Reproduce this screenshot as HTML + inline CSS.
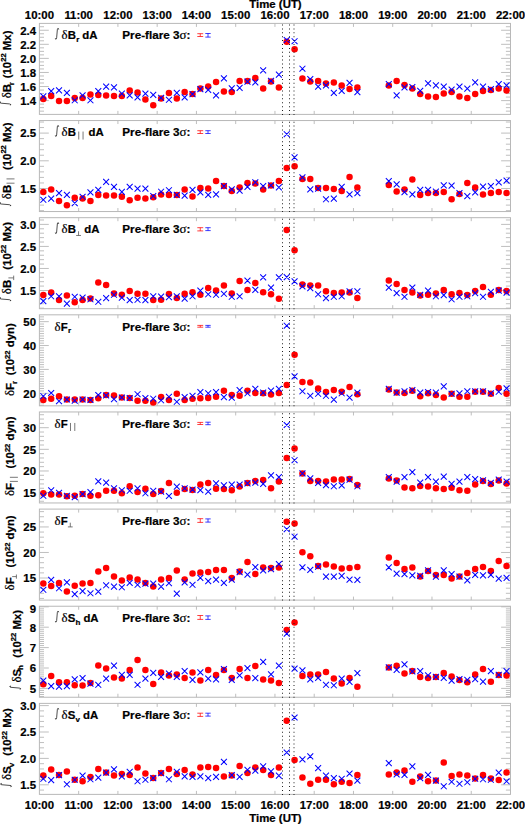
<!DOCTYPE html><html><head><meta charset="utf-8"><style>html,body{margin:0;padding:0;background:#fff;}svg{display:block;}text{font-family:"Liberation Sans",sans-serif;stroke:#000;stroke-width:0.22px;}</style></head><body>
<svg width="525" height="824" viewBox="0 0 525 824">
<rect width="525" height="824" fill="#fff"/>
<path d="M39.40 111.15h4.6M510.50 111.15h-4.6M39.40 107.63h4.6M510.50 107.63h-4.6M39.40 104.12h4.6M510.50 104.12h-4.6M39.40 100.60h9.4M510.50 100.60h-9.4M39.40 97.08h4.6M510.50 97.08h-4.6M39.40 93.56h4.6M510.50 93.56h-4.6M39.40 90.05h4.6M510.50 90.05h-4.6M39.40 86.53h9.4M510.50 86.53h-9.4M39.40 83.01h4.6M510.50 83.01h-4.6M39.40 79.49h4.6M510.50 79.49h-4.6M39.40 75.98h4.6M510.50 75.98h-4.6M39.40 72.46h9.4M510.50 72.46h-9.4M39.40 68.94h4.6M510.50 68.94h-4.6M39.40 65.42h4.6M510.50 65.42h-4.6M39.40 61.91h4.6M510.50 61.91h-4.6M39.40 58.39h9.4M510.50 58.39h-9.4M39.40 54.87h4.6M510.50 54.87h-4.6M39.40 51.35h4.6M510.50 51.35h-4.6M39.40 47.84h4.6M510.50 47.84h-4.6M39.40 44.32h9.4M510.50 44.32h-9.4M39.40 40.80h4.6M510.50 40.80h-4.6M39.40 37.28h4.6M510.50 37.28h-4.6M39.40 33.77h4.6M510.50 33.77h-4.6M39.40 30.25h9.4M510.50 30.25h-9.4M39.40 26.73h4.6M510.50 26.73h-4.6M78.66 23.40v3.5M78.66 114.40v-3.5M117.92 23.40v3.5M117.92 114.40v-3.5M157.18 23.40v3.5M157.18 114.40v-3.5M196.43 23.40v3.5M196.43 114.40v-3.5M235.69 23.40v3.5M235.69 114.40v-3.5M274.95 23.40v3.5M274.95 114.40v-3.5M314.21 23.40v3.5M314.21 114.40v-3.5M353.47 23.40v3.5M353.47 114.40v-3.5M392.73 23.40v3.5M392.73 114.40v-3.5M431.98 23.40v3.5M431.98 114.40v-3.5M471.24 23.40v3.5M471.24 114.40v-3.5" stroke="#b8b8b8" stroke-width="0.9" fill="none"/>
<rect x="39.40" y="23.40" width="471.10" height="91.00" fill="none" stroke="#b8b8b8" stroke-width="1"/>
<text x="36" y="104.90" font-size="11.4" font-weight="bold" text-anchor="end">1.4</text>
<text x="36" y="90.83" font-size="11.4" font-weight="bold" text-anchor="end">1.6</text>
<text x="36" y="76.76" font-size="11.4" font-weight="bold" text-anchor="end">1.8</text>
<text x="36" y="62.69" font-size="11.4" font-weight="bold" text-anchor="end">2.0</text>
<text x="36" y="48.62" font-size="11.4" font-weight="bold" text-anchor="end">2.2</text>
<text x="36" y="34.55" font-size="11.4" font-weight="bold" text-anchor="end">2.4</text>
<path d="M39.40 210.66h4.6M510.50 210.66h-4.6M39.40 205.12h4.6M510.50 205.12h-4.6M39.40 199.58h4.6M510.50 199.58h-4.6M39.40 194.04h4.6M510.50 194.04h-4.6M39.40 188.50h9.4M510.50 188.50h-9.4M39.40 182.96h4.6M510.50 182.96h-4.6M39.40 177.42h4.6M510.50 177.42h-4.6M39.40 171.88h4.6M510.50 171.88h-4.6M39.40 166.34h4.6M510.50 166.34h-4.6M39.40 160.80h9.4M510.50 160.80h-9.4M39.40 155.26h4.6M510.50 155.26h-4.6M39.40 149.72h4.6M510.50 149.72h-4.6M39.40 144.18h4.6M510.50 144.18h-4.6M39.40 138.64h4.6M510.50 138.64h-4.6M39.40 133.10h9.4M510.50 133.10h-9.4M39.40 127.56h4.6M510.50 127.56h-4.6M39.40 122.02h4.6M510.50 122.02h-4.6M78.66 120.54v3.5M78.66 211.54v-3.5M117.92 120.54v3.5M117.92 211.54v-3.5M157.18 120.54v3.5M157.18 211.54v-3.5M196.43 120.54v3.5M196.43 211.54v-3.5M235.69 120.54v3.5M235.69 211.54v-3.5M274.95 120.54v3.5M274.95 211.54v-3.5M314.21 120.54v3.5M314.21 211.54v-3.5M353.47 120.54v3.5M353.47 211.54v-3.5M392.73 120.54v3.5M392.73 211.54v-3.5M431.98 120.54v3.5M431.98 211.54v-3.5M471.24 120.54v3.5M471.24 211.54v-3.5" stroke="#b8b8b8" stroke-width="0.9" fill="none"/>
<rect x="39.40" y="120.54" width="471.10" height="91.00" fill="none" stroke="#b8b8b8" stroke-width="1"/>
<text x="36" y="192.80" font-size="11.4" font-weight="bold" text-anchor="end">1.5</text>
<text x="36" y="165.10" font-size="11.4" font-weight="bold" text-anchor="end">2.0</text>
<text x="36" y="137.40" font-size="11.4" font-weight="bold" text-anchor="end">2.5</text>
<path d="M39.40 308.13h4.6M510.50 308.13h-4.6M39.40 303.72h4.6M510.50 303.72h-4.6M39.40 299.31h4.6M510.50 299.31h-4.6M39.40 294.91h4.6M510.50 294.91h-4.6M39.40 290.50h9.4M510.50 290.50h-9.4M39.40 286.09h4.6M510.50 286.09h-4.6M39.40 281.69h4.6M510.50 281.69h-4.6M39.40 277.28h4.6M510.50 277.28h-4.6M39.40 272.87h4.6M510.50 272.87h-4.6M39.40 268.47h9.4M510.50 268.47h-9.4M39.40 264.06h4.6M510.50 264.06h-4.6M39.40 259.65h4.6M510.50 259.65h-4.6M39.40 255.25h4.6M510.50 255.25h-4.6M39.40 250.84h4.6M510.50 250.84h-4.6M39.40 246.43h9.4M510.50 246.43h-9.4M39.40 242.03h4.6M510.50 242.03h-4.6M39.40 237.62h4.6M510.50 237.62h-4.6M39.40 233.21h4.6M510.50 233.21h-4.6M39.40 228.81h4.6M510.50 228.81h-4.6M39.40 224.40h9.4M510.50 224.40h-9.4M39.40 219.99h4.6M510.50 219.99h-4.6M78.66 217.68v3.5M78.66 308.68v-3.5M117.92 217.68v3.5M117.92 308.68v-3.5M157.18 217.68v3.5M157.18 308.68v-3.5M196.43 217.68v3.5M196.43 308.68v-3.5M235.69 217.68v3.5M235.69 308.68v-3.5M274.95 217.68v3.5M274.95 308.68v-3.5M314.21 217.68v3.5M314.21 308.68v-3.5M353.47 217.68v3.5M353.47 308.68v-3.5M392.73 217.68v3.5M392.73 308.68v-3.5M431.98 217.68v3.5M431.98 308.68v-3.5M471.24 217.68v3.5M471.24 308.68v-3.5" stroke="#b8b8b8" stroke-width="0.9" fill="none"/>
<rect x="39.40" y="217.68" width="471.10" height="91.00" fill="none" stroke="#b8b8b8" stroke-width="1"/>
<text x="36" y="294.80" font-size="11.4" font-weight="bold" text-anchor="end">1.5</text>
<text x="36" y="272.77" font-size="11.4" font-weight="bold" text-anchor="end">2.0</text>
<text x="36" y="250.73" font-size="11.4" font-weight="bold" text-anchor="end">2.5</text>
<text x="36" y="228.70" font-size="11.4" font-weight="bold" text-anchor="end">3.0</text>
<path d="M39.40 405.24h4.6M510.50 405.24h-4.6M39.40 402.85h4.6M510.50 402.85h-4.6M39.40 400.47h4.6M510.50 400.47h-4.6M39.40 398.08h4.6M510.50 398.08h-4.6M39.40 395.69h4.6M510.50 395.69h-4.6M39.40 393.30h9.4M510.50 393.30h-9.4M39.40 390.91h4.6M510.50 390.91h-4.6M39.40 388.52h4.6M510.50 388.52h-4.6M39.40 386.13h4.6M510.50 386.13h-4.6M39.40 383.75h4.6M510.50 383.75h-4.6M39.40 381.36h4.6M510.50 381.36h-4.6M39.40 378.97h4.6M510.50 378.97h-4.6M39.40 376.58h4.6M510.50 376.58h-4.6M39.40 374.19h4.6M510.50 374.19h-4.6M39.40 371.81h4.6M510.50 371.81h-4.6M39.40 369.42h9.4M510.50 369.42h-9.4M39.40 367.03h4.6M510.50 367.03h-4.6M39.40 364.64h4.6M510.50 364.64h-4.6M39.40 362.25h4.6M510.50 362.25h-4.6M39.40 359.86h4.6M510.50 359.86h-4.6M39.40 357.48h4.6M510.50 357.48h-4.6M39.40 355.09h4.6M510.50 355.09h-4.6M39.40 352.70h4.6M510.50 352.70h-4.6M39.40 350.31h4.6M510.50 350.31h-4.6M39.40 347.92h4.6M510.50 347.92h-4.6M39.40 345.53h9.4M510.50 345.53h-9.4M39.40 343.14h4.6M510.50 343.14h-4.6M39.40 340.76h4.6M510.50 340.76h-4.6M39.40 338.37h4.6M510.50 338.37h-4.6M39.40 335.98h4.6M510.50 335.98h-4.6M39.40 333.59h4.6M510.50 333.59h-4.6M39.40 331.20h4.6M510.50 331.20h-4.6M39.40 328.81h4.6M510.50 328.81h-4.6M39.40 326.43h4.6M510.50 326.43h-4.6M39.40 324.04h4.6M510.50 324.04h-4.6M39.40 321.65h9.4M510.50 321.65h-9.4M39.40 319.26h4.6M510.50 319.26h-4.6M39.40 316.87h4.6M510.50 316.87h-4.6M78.66 314.82v3.5M78.66 405.82v-3.5M117.92 314.82v3.5M117.92 405.82v-3.5M157.18 314.82v3.5M157.18 405.82v-3.5M196.43 314.82v3.5M196.43 405.82v-3.5M235.69 314.82v3.5M235.69 405.82v-3.5M274.95 314.82v3.5M274.95 405.82v-3.5M314.21 314.82v3.5M314.21 405.82v-3.5M353.47 314.82v3.5M353.47 405.82v-3.5M392.73 314.82v3.5M392.73 405.82v-3.5M431.98 314.82v3.5M431.98 405.82v-3.5M471.24 314.82v3.5M471.24 405.82v-3.5" stroke="#b8b8b8" stroke-width="0.9" fill="none"/>
<rect x="39.40" y="314.82" width="471.10" height="91.00" fill="none" stroke="#b8b8b8" stroke-width="1"/>
<text x="36" y="397.60" font-size="11.4" font-weight="bold" text-anchor="end">20</text>
<text x="36" y="373.72" font-size="11.4" font-weight="bold" text-anchor="end">30</text>
<text x="36" y="349.83" font-size="11.4" font-weight="bold" text-anchor="end">40</text>
<text x="36" y="325.95" font-size="11.4" font-weight="bold" text-anchor="end">50</text>
<path d="M39.40 501.25h4.6M510.50 501.25h-4.6M39.40 496.93h4.6M510.50 496.93h-4.6M39.40 492.60h9.4M510.50 492.60h-9.4M39.40 488.27h4.6M510.50 488.27h-4.6M39.40 483.95h4.6M510.50 483.95h-4.6M39.40 479.62h4.6M510.50 479.62h-4.6M39.40 475.29h4.6M510.50 475.29h-4.6M39.40 470.97h9.4M510.50 470.97h-9.4M39.40 466.64h4.6M510.50 466.64h-4.6M39.40 462.31h4.6M510.50 462.31h-4.6M39.40 457.99h4.6M510.50 457.99h-4.6M39.40 453.66h4.6M510.50 453.66h-4.6M39.40 449.33h9.4M510.50 449.33h-9.4M39.40 445.01h4.6M510.50 445.01h-4.6M39.40 440.68h4.6M510.50 440.68h-4.6M39.40 436.35h4.6M510.50 436.35h-4.6M39.40 432.03h4.6M510.50 432.03h-4.6M39.40 427.70h9.4M510.50 427.70h-9.4M39.40 423.37h4.6M510.50 423.37h-4.6M39.40 419.05h4.6M510.50 419.05h-4.6M39.40 414.72h4.6M510.50 414.72h-4.6M78.66 411.96v3.5M78.66 502.96v-3.5M117.92 411.96v3.5M117.92 502.96v-3.5M157.18 411.96v3.5M157.18 502.96v-3.5M196.43 411.96v3.5M196.43 502.96v-3.5M235.69 411.96v3.5M235.69 502.96v-3.5M274.95 411.96v3.5M274.95 502.96v-3.5M314.21 411.96v3.5M314.21 502.96v-3.5M353.47 411.96v3.5M353.47 502.96v-3.5M392.73 411.96v3.5M392.73 502.96v-3.5M431.98 411.96v3.5M431.98 502.96v-3.5M471.24 411.96v3.5M471.24 502.96v-3.5" stroke="#b8b8b8" stroke-width="0.9" fill="none"/>
<rect x="39.40" y="411.96" width="471.10" height="91.00" fill="none" stroke="#b8b8b8" stroke-width="1"/>
<text x="36" y="496.90" font-size="11.4" font-weight="bold" text-anchor="end">15</text>
<text x="36" y="475.27" font-size="11.4" font-weight="bold" text-anchor="end">20</text>
<text x="36" y="453.63" font-size="11.4" font-weight="bold" text-anchor="end">25</text>
<text x="36" y="432.00" font-size="11.4" font-weight="bold" text-anchor="end">30</text>
<path d="M39.40 598.42h4.6M510.50 598.42h-4.6M39.40 593.31h4.6M510.50 593.31h-4.6M39.40 588.21h4.6M510.50 588.21h-4.6M39.40 583.11h4.6M510.50 583.11h-4.6M39.40 578.00h9.4M510.50 578.00h-9.4M39.40 572.89h4.6M510.50 572.89h-4.6M39.40 567.79h4.6M510.50 567.79h-4.6M39.40 562.69h4.6M510.50 562.69h-4.6M39.40 557.58h4.6M510.50 557.58h-4.6M39.40 552.48h9.4M510.50 552.48h-9.4M39.40 547.37h4.6M510.50 547.37h-4.6M39.40 542.26h4.6M510.50 542.26h-4.6M39.40 537.16h4.6M510.50 537.16h-4.6M39.40 532.06h4.6M510.50 532.06h-4.6M39.40 526.95h9.4M510.50 526.95h-9.4M39.40 521.85h4.6M510.50 521.85h-4.6M39.40 516.74h4.6M510.50 516.74h-4.6M39.40 511.64h4.6M510.50 511.64h-4.6M78.66 509.10v3.5M78.66 600.10v-3.5M117.92 509.10v3.5M117.92 600.10v-3.5M157.18 509.10v3.5M157.18 600.10v-3.5M196.43 509.10v3.5M196.43 600.10v-3.5M235.69 509.10v3.5M235.69 600.10v-3.5M274.95 509.10v3.5M274.95 600.10v-3.5M314.21 509.10v3.5M314.21 600.10v-3.5M353.47 509.10v3.5M353.47 600.10v-3.5M392.73 509.10v3.5M392.73 600.10v-3.5M431.98 509.10v3.5M431.98 600.10v-3.5M471.24 509.10v3.5M471.24 600.10v-3.5" stroke="#b8b8b8" stroke-width="0.9" fill="none"/>
<rect x="39.40" y="509.10" width="471.10" height="91.00" fill="none" stroke="#b8b8b8" stroke-width="1"/>
<text x="36" y="582.30" font-size="11.4" font-weight="bold" text-anchor="end">15</text>
<text x="36" y="556.77" font-size="11.4" font-weight="bold" text-anchor="end">20</text>
<text x="36" y="531.25" font-size="11.4" font-weight="bold" text-anchor="end">25</text>
<path d="M39.40 696.56h4.6M510.50 696.56h-4.6M39.40 694.52h4.6M510.50 694.52h-4.6M39.40 692.48h4.6M510.50 692.48h-4.6M39.40 690.44h4.6M510.50 690.44h-4.6M39.40 688.40h9.4M510.50 688.40h-9.4M39.40 686.36h4.6M510.50 686.36h-4.6M39.40 684.32h4.6M510.50 684.32h-4.6M39.40 682.28h4.6M510.50 682.28h-4.6M39.40 680.24h4.6M510.50 680.24h-4.6M39.40 678.20h4.6M510.50 678.20h-4.6M39.40 676.16h4.6M510.50 676.16h-4.6M39.40 674.12h4.6M510.50 674.12h-4.6M39.40 672.08h4.6M510.50 672.08h-4.6M39.40 670.04h4.6M510.50 670.04h-4.6M39.40 668.00h9.4M510.50 668.00h-9.4M39.40 665.96h4.6M510.50 665.96h-4.6M39.40 663.92h4.6M510.50 663.92h-4.6M39.40 661.88h4.6M510.50 661.88h-4.6M39.40 659.84h4.6M510.50 659.84h-4.6M39.40 657.80h4.6M510.50 657.80h-4.6M39.40 655.76h4.6M510.50 655.76h-4.6M39.40 653.72h4.6M510.50 653.72h-4.6M39.40 651.68h4.6M510.50 651.68h-4.6M39.40 649.64h4.6M510.50 649.64h-4.6M39.40 647.60h9.4M510.50 647.60h-9.4M39.40 645.56h4.6M510.50 645.56h-4.6M39.40 643.52h4.6M510.50 643.52h-4.6M39.40 641.48h4.6M510.50 641.48h-4.6M39.40 639.44h4.6M510.50 639.44h-4.6M39.40 637.40h4.6M510.50 637.40h-4.6M39.40 635.36h4.6M510.50 635.36h-4.6M39.40 633.32h4.6M510.50 633.32h-4.6M39.40 631.28h4.6M510.50 631.28h-4.6M39.40 629.24h4.6M510.50 629.24h-4.6M39.40 627.20h9.4M510.50 627.20h-9.4M39.40 625.16h4.6M510.50 625.16h-4.6M39.40 623.12h4.6M510.50 623.12h-4.6M39.40 621.08h4.6M510.50 621.08h-4.6M39.40 619.04h4.6M510.50 619.04h-4.6M39.40 617.00h4.6M510.50 617.00h-4.6M39.40 614.96h4.6M510.50 614.96h-4.6M39.40 612.92h4.6M510.50 612.92h-4.6M39.40 610.88h4.6M510.50 610.88h-4.6M39.40 608.84h4.6M510.50 608.84h-4.6M39.40 606.80h9.4M510.50 606.80h-9.4M78.66 606.24v3.5M78.66 697.24v-3.5M117.92 606.24v3.5M117.92 697.24v-3.5M157.18 606.24v3.5M157.18 697.24v-3.5M196.43 606.24v3.5M196.43 697.24v-3.5M235.69 606.24v3.5M235.69 697.24v-3.5M274.95 606.24v3.5M274.95 697.24v-3.5M314.21 606.24v3.5M314.21 697.24v-3.5M353.47 606.24v3.5M353.47 697.24v-3.5M392.73 606.24v3.5M392.73 697.24v-3.5M431.98 606.24v3.5M431.98 697.24v-3.5M471.24 606.24v3.5M471.24 697.24v-3.5" stroke="#b8b8b8" stroke-width="0.9" fill="none"/>
<rect x="39.40" y="606.24" width="471.10" height="91.00" fill="none" stroke="#b8b8b8" stroke-width="1"/>
<text x="36" y="692.70" font-size="11.4" font-weight="bold" text-anchor="end">5</text>
<text x="36" y="672.30" font-size="11.4" font-weight="bold" text-anchor="end">6</text>
<text x="36" y="651.90" font-size="11.4" font-weight="bold" text-anchor="end">7</text>
<text x="36" y="631.50" font-size="11.4" font-weight="bold" text-anchor="end">8</text>
<text x="36" y="612.50" font-size="11.4" font-weight="bold" text-anchor="end">9</text>
<path d="M39.40 790.08h4.6M510.50 790.08h-4.6M39.40 784.80h9.4M510.50 784.80h-9.4M39.40 779.52h4.6M510.50 779.52h-4.6M39.40 774.24h4.6M510.50 774.24h-4.6M39.40 768.96h4.6M510.50 768.96h-4.6M39.40 763.68h4.6M510.50 763.68h-4.6M39.40 758.40h9.4M510.50 758.40h-9.4M39.40 753.12h4.6M510.50 753.12h-4.6M39.40 747.84h4.6M510.50 747.84h-4.6M39.40 742.56h4.6M510.50 742.56h-4.6M39.40 737.28h4.6M510.50 737.28h-4.6M39.40 732.00h9.4M510.50 732.00h-9.4M39.40 726.72h4.6M510.50 726.72h-4.6M39.40 721.44h4.6M510.50 721.44h-4.6M39.40 716.16h4.6M510.50 716.16h-4.6M39.40 710.88h4.6M510.50 710.88h-4.6M39.40 705.60h9.4M510.50 705.60h-9.4M78.66 703.38v3.5M78.66 794.38v-3.5M117.92 703.38v3.5M117.92 794.38v-3.5M157.18 703.38v3.5M157.18 794.38v-3.5M196.43 703.38v3.5M196.43 794.38v-3.5M235.69 703.38v3.5M235.69 794.38v-3.5M274.95 703.38v3.5M274.95 794.38v-3.5M314.21 703.38v3.5M314.21 794.38v-3.5M353.47 703.38v3.5M353.47 794.38v-3.5M392.73 703.38v3.5M392.73 794.38v-3.5M431.98 703.38v3.5M431.98 794.38v-3.5M471.24 703.38v3.5M471.24 794.38v-3.5" stroke="#b8b8b8" stroke-width="0.9" fill="none"/>
<rect x="39.40" y="703.38" width="471.10" height="91.00" fill="none" stroke="#b8b8b8" stroke-width="1"/>
<text x="36" y="789.10" font-size="11.4" font-weight="bold" text-anchor="end">1.5</text>
<text x="36" y="762.70" font-size="11.4" font-weight="bold" text-anchor="end">2.0</text>
<text x="36" y="736.30" font-size="11.4" font-weight="bold" text-anchor="end">2.5</text>
<text x="36" y="709.90" font-size="11.4" font-weight="bold" text-anchor="end">3.0</text>
<text x="39.40" y="18.8" font-size="11.4" font-weight="bold" text-anchor="middle">10:00</text>
<text x="39.40" y="809.0" font-size="11.4" font-weight="bold" text-anchor="middle">10:00</text>
<text x="78.66" y="18.8" font-size="11.4" font-weight="bold" text-anchor="middle">11:00</text>
<text x="78.66" y="809.0" font-size="11.4" font-weight="bold" text-anchor="middle">11:00</text>
<text x="117.92" y="18.8" font-size="11.4" font-weight="bold" text-anchor="middle">12:00</text>
<text x="117.92" y="809.0" font-size="11.4" font-weight="bold" text-anchor="middle">12:00</text>
<text x="157.18" y="18.8" font-size="11.4" font-weight="bold" text-anchor="middle">13:00</text>
<text x="157.18" y="809.0" font-size="11.4" font-weight="bold" text-anchor="middle">13:00</text>
<text x="196.43" y="18.8" font-size="11.4" font-weight="bold" text-anchor="middle">14:00</text>
<text x="196.43" y="809.0" font-size="11.4" font-weight="bold" text-anchor="middle">14:00</text>
<text x="235.69" y="18.8" font-size="11.4" font-weight="bold" text-anchor="middle">15:00</text>
<text x="235.69" y="809.0" font-size="11.4" font-weight="bold" text-anchor="middle">15:00</text>
<text x="274.95" y="18.8" font-size="11.4" font-weight="bold" text-anchor="middle">16:00</text>
<text x="274.95" y="809.0" font-size="11.4" font-weight="bold" text-anchor="middle">16:00</text>
<text x="314.21" y="18.8" font-size="11.4" font-weight="bold" text-anchor="middle">17:00</text>
<text x="314.21" y="809.0" font-size="11.4" font-weight="bold" text-anchor="middle">17:00</text>
<text x="353.47" y="18.8" font-size="11.4" font-weight="bold" text-anchor="middle">18:00</text>
<text x="353.47" y="809.0" font-size="11.4" font-weight="bold" text-anchor="middle">18:00</text>
<text x="392.73" y="18.8" font-size="11.4" font-weight="bold" text-anchor="middle">19:00</text>
<text x="392.73" y="809.0" font-size="11.4" font-weight="bold" text-anchor="middle">19:00</text>
<text x="431.98" y="18.8" font-size="11.4" font-weight="bold" text-anchor="middle">20:00</text>
<text x="431.98" y="809.0" font-size="11.4" font-weight="bold" text-anchor="middle">20:00</text>
<text x="471.24" y="18.8" font-size="11.4" font-weight="bold" text-anchor="middle">21:00</text>
<text x="471.24" y="809.0" font-size="11.4" font-weight="bold" text-anchor="middle">21:00</text>
<text x="510.50" y="18.8" font-size="11.4" font-weight="bold" text-anchor="middle">22:00</text>
<text x="510.50" y="809.0" font-size="11.4" font-weight="bold" text-anchor="middle">22:00</text>
<text x="275.5" y="8.2" font-size="11.4" font-weight="bold" text-anchor="middle">Time (UT)</text>
<text x="275.5" y="821.5" font-size="11.4" font-weight="bold" text-anchor="middle">Time (UT)</text>
<path d="M58.60 29.00C58.40 28.00 57.50 28.10 57.35 29.60L56.65 37.80C56.50 39.40 55.70 39.60 55.45 38.80M58.20 28.80h0.01M55.80 39.00h0.01" stroke="#222" stroke-width="0.8" stroke-linecap="round" fill="none"/>
<text x="61.6" y="39.20" font-size="11.4" font-weight="bold"><tspan font-family="Liberation Serif" font-weight="normal" font-size="12.8" stroke="#000" stroke-width="0.2">δ</tspan>B</text>
<text x="76.16" y="42.00" font-size="8" font-weight="bold">r</text>
<text x="82.27" y="39.20" font-size="11.4" font-weight="bold">dA</text>
<text x="122.3" y="39.20" font-size="11.7" font-weight="bold">Pre-flare 3<tspan font-family="Liberation Serif" font-weight="normal" font-size="13" stroke="#000" stroke-width="0.2">σ</tspan>:</text>
<path d="M197.3 33.70h5.9M197.3 36.50h5.9M200.25 33.70V36.50" stroke="#ff0000" stroke-width="0.75" fill="none"/>
<path d="M205.3 33.50h5.4M205.3 37.10h5.4M208 33.50V37.10" stroke="#0000ff" stroke-width="0.75" fill="none"/>
<path d="M58.60 126.14C58.40 125.14 57.50 125.24 57.35 126.74L56.65 134.94C56.50 136.54 55.70 136.74 55.45 135.94M58.20 125.94h0.01M55.80 136.14h0.01" stroke="#222" stroke-width="0.8" stroke-linecap="round" fill="none"/>
<text x="61.6" y="136.34" font-size="11.4" font-weight="bold"><tspan font-family="Liberation Serif" font-weight="normal" font-size="12.8" stroke="#000" stroke-width="0.2">δ</tspan>B</text>
<path d="M78.76 131.54v8M83.06 131.54v8" stroke="#555" stroke-width="0.8" fill="none"/>
<text x="88.46" y="136.34" font-size="11.4" font-weight="bold">dA</text>
<text x="122.3" y="136.34" font-size="11.7" font-weight="bold">Pre-flare 3<tspan font-family="Liberation Serif" font-weight="normal" font-size="13" stroke="#000" stroke-width="0.2">σ</tspan>:</text>
<path d="M197.3 130.70h5.9M197.3 133.50h5.9M200.25 130.70V133.50" stroke="#ff0000" stroke-width="0.75" fill="none"/>
<path d="M205.3 130.70h5.4M205.3 133.50h5.4M208 130.70V133.50" stroke="#0000ff" stroke-width="0.75" fill="none"/>
<path d="M58.60 223.28C58.40 222.28 57.50 222.38 57.35 223.88L56.65 232.08C56.50 233.68 55.70 233.88 55.45 233.08M58.20 223.08h0.01M55.80 233.28h0.01" stroke="#222" stroke-width="0.8" stroke-linecap="round" fill="none"/>
<text x="61.6" y="233.48" font-size="11.4" font-weight="bold"><tspan font-family="Liberation Serif" font-weight="normal" font-size="12.8" stroke="#000" stroke-width="0.2">δ</tspan>B</text>
<path d="M76.16 235.48h4.8M78.56 235.48v-4.2" stroke="#555" stroke-width="0.8" fill="none"/>
<text x="84.26" y="233.48" font-size="11.4" font-weight="bold">dA</text>
<text x="122.3" y="233.48" font-size="11.7" font-weight="bold">Pre-flare 3<tspan font-family="Liberation Serif" font-weight="normal" font-size="13" stroke="#000" stroke-width="0.2">σ</tspan>:</text>
<path d="M197.3 227.70h5.9M197.3 230.90h5.9M200.25 227.70V230.90" stroke="#ff0000" stroke-width="0.75" fill="none"/>
<path d="M205.3 227.70h5.4M205.3 230.60h5.4M208 227.70V230.60" stroke="#0000ff" stroke-width="0.75" fill="none"/>
<text x="54.6" y="330.62" font-size="11.4" font-weight="bold"><tspan font-family="Liberation Serif" font-weight="normal" font-size="12.8" stroke="#000" stroke-width="0.2">δ</tspan>F</text>
<text x="67.89" y="333.42" font-size="8" font-weight="bold">r</text>
<text x="122.3" y="330.62" font-size="11.7" font-weight="bold">Pre-flare 3<tspan font-family="Liberation Serif" font-weight="normal" font-size="13" stroke="#000" stroke-width="0.2">σ</tspan>:</text>
<path d="M197.3 325.40h5.9M197.3 327.20h5.9M200.25 325.40V327.20" stroke="#ff0000" stroke-width="0.75" fill="none"/>
<path d="M205.3 325.40h5.4M205.3 327.20h5.4M208 325.40V327.20" stroke="#0000ff" stroke-width="0.75" fill="none"/>
<text x="54.6" y="427.76" font-size="11.4" font-weight="bold"><tspan font-family="Liberation Serif" font-weight="normal" font-size="12.8" stroke="#000" stroke-width="0.2">δ</tspan>F</text>
<path d="M70.49 422.96v8M74.79 422.96v8" stroke="#555" stroke-width="0.8" fill="none"/>
<text x="122.3" y="427.76" font-size="11.7" font-weight="bold">Pre-flare 3<tspan font-family="Liberation Serif" font-weight="normal" font-size="13" stroke="#000" stroke-width="0.2">σ</tspan>:</text>
<path d="M197.3 422.40h5.9M197.3 424.50h5.9M200.25 422.40V424.50" stroke="#ff0000" stroke-width="0.75" fill="none"/>
<path d="M205.3 422.20h5.4M205.3 424.70h5.4M208 422.20V424.70" stroke="#0000ff" stroke-width="0.75" fill="none"/>
<text x="54.6" y="524.90" font-size="11.4" font-weight="bold"><tspan font-family="Liberation Serif" font-weight="normal" font-size="12.8" stroke="#000" stroke-width="0.2">δ</tspan>F</text>
<path d="M67.89 526.90h4.8M70.29 526.90v-4.2" stroke="#555" stroke-width="0.8" fill="none"/>
<text x="122.3" y="524.90" font-size="11.7" font-weight="bold">Pre-flare 3<tspan font-family="Liberation Serif" font-weight="normal" font-size="13" stroke="#000" stroke-width="0.2">σ</tspan>:</text>
<path d="M197.3 518.70h5.9M197.3 522.40h5.9M200.25 518.70V522.40" stroke="#ff0000" stroke-width="0.75" fill="none"/>
<path d="M205.3 518.90h5.4M205.3 522.10h5.4M208 518.90V522.10" stroke="#0000ff" stroke-width="0.75" fill="none"/>
<path d="M58.60 611.84C58.40 610.84 57.50 610.94 57.35 612.44L56.65 620.64C56.50 622.24 55.70 622.44 55.45 621.64M58.20 611.64h0.01M55.80 621.84h0.01" stroke="#222" stroke-width="0.8" stroke-linecap="round" fill="none"/>
<text x="61.6" y="622.04" font-size="11.4" font-weight="bold"><tspan font-family="Liberation Serif" font-weight="normal" font-size="12.8" stroke="#000" stroke-width="0.2">δ</tspan>S</text>
<text x="75.53" y="624.84" font-size="8" font-weight="bold">h</text>
<text x="83.42" y="622.04" font-size="11.4" font-weight="bold">dA</text>
<text x="122.3" y="622.04" font-size="11.7" font-weight="bold">Pre-flare 3<tspan font-family="Liberation Serif" font-weight="normal" font-size="13" stroke="#000" stroke-width="0.2">σ</tspan>:</text>
<path d="M197.3 615.50h5.9M197.3 619.40h5.9M200.25 615.50V619.40" stroke="#ff0000" stroke-width="0.75" fill="none"/>
<path d="M205.3 615.90h5.4M205.3 619.40h5.4M208 615.90V619.40" stroke="#0000ff" stroke-width="0.75" fill="none"/>
<path d="M58.60 708.98C58.40 707.98 57.50 708.08 57.35 709.58L56.65 717.78C56.50 719.38 55.70 719.58 55.45 718.78M58.20 708.78h0.01M55.80 718.98h0.01" stroke="#222" stroke-width="0.8" stroke-linecap="round" fill="none"/>
<text x="61.6" y="719.18" font-size="11.4" font-weight="bold"><tspan font-family="Liberation Serif" font-weight="normal" font-size="12.8" stroke="#000" stroke-width="0.2">δ</tspan>S</text>
<text x="75.53" y="721.98" font-size="8" font-weight="bold">v</text>
<text x="82.98" y="719.18" font-size="11.4" font-weight="bold">dA</text>
<text x="122.3" y="719.18" font-size="11.7" font-weight="bold">Pre-flare 3<tspan font-family="Liberation Serif" font-weight="normal" font-size="13" stroke="#000" stroke-width="0.2">σ</tspan>:</text>
<path d="M197.3 713.20h5.9M197.3 716.40h5.9M200.25 713.20V716.40" stroke="#ff0000" stroke-width="0.75" fill="none"/>
<path d="M205.3 713.20h5.4M205.3 716.10h5.4M208 713.20V716.10" stroke="#0000ff" stroke-width="0.75" fill="none"/>
<text transform="translate(10.70,84.09) rotate(-90)" font-size="11.4" font-weight="bold" text-anchor="end"><tspan font-family="Liberation Serif" font-weight="normal" font-size="12.8" stroke="#000" stroke-width="0.2">δ</tspan>B</text>
<g transform="translate(10.70,101.65) rotate(-90)"><path d="M-0.30 -10.20C-0.50 -11.20 -1.40 -11.10 -1.55 -9.60L-2.25 -1.40C-2.40 0.20 -3.20 0.40 -3.45 -0.40M-0.70 -10.40h0.01M-3.10 -0.20h0.01" stroke="#222" stroke-width="0.8" stroke-linecap="round" fill="none"/></g>
<text transform="translate(13.50,85.20) rotate(-90)" font-size="8" font-weight="bold">r</text>
<text transform="translate(10.70,78.27) rotate(-90)" font-size="11.4" font-weight="bold">(10<tspan font-size="7.6" dy="-4.6">22</tspan><tspan dy="4.6"> Mx)</tspan></text>
<text transform="translate(10.70,184.89) rotate(-90)" font-size="11.4" font-weight="bold" text-anchor="end"><tspan font-family="Liberation Serif" font-weight="normal" font-size="12.8" stroke="#000" stroke-width="0.2">δ</tspan>B</text>
<g transform="translate(10.70,202.45) rotate(-90)"><path d="M-0.30 -10.20C-0.50 -11.20 -1.40 -11.10 -1.55 -9.60L-2.25 -1.40C-2.40 0.20 -3.20 0.40 -3.45 -0.40M-0.70 -10.40h0.01M-3.10 -0.20h0.01" stroke="#222" stroke-width="0.8" stroke-linecap="round" fill="none"/></g>
<path d="M6.50 183.20H14.50M6.50 178.90H14.50" stroke="#555" stroke-width="0.8" fill="none"/>
<text transform="translate(10.70,170.07) rotate(-90)" font-size="11.4" font-weight="bold">(10<tspan font-size="7.6" dy="-4.6">22</tspan><tspan dy="4.6"> Mx)</tspan></text>
<text transform="translate(10.70,279.89) rotate(-90)" font-size="11.4" font-weight="bold" text-anchor="end"><tspan font-family="Liberation Serif" font-weight="normal" font-size="12.8" stroke="#000" stroke-width="0.2">δ</tspan>B</text>
<g transform="translate(10.70,297.45) rotate(-90)"><path d="M-0.30 -10.20C-0.50 -11.20 -1.40 -11.10 -1.55 -9.60L-2.25 -1.40C-2.40 0.20 -3.20 0.40 -3.45 -0.40M-0.70 -10.40h0.01M-3.10 -0.20h0.01" stroke="#222" stroke-width="0.8" stroke-linecap="round" fill="none"/></g>
<path d="M8.40 277.90H13.70M13.70 275.60V280.10" stroke="#555" stroke-width="0.8" fill="none"/>
<text transform="translate(10.70,269.67) rotate(-90)" font-size="11.4" font-weight="bold">(10<tspan font-size="7.6" dy="-4.6">22</tspan><tspan dy="4.6"> Mx)</tspan></text>
<text transform="translate(14.10,382.98) rotate(-90)" font-size="11.4" font-weight="bold" text-anchor="end"><tspan font-family="Liberation Serif" font-weight="normal" font-size="12.8" stroke="#000" stroke-width="0.2">δ</tspan>F</text>
<text transform="translate(16.90,384.00) rotate(-90)" font-size="8" font-weight="bold">r</text>
<text transform="translate(14.10,375.37) rotate(-90)" font-size="11.4" font-weight="bold">(10<tspan font-size="7.6" dy="-4.6">22</tspan><tspan dy="4.6"> dyn)</tspan></text>
<text transform="translate(14.10,482.98) rotate(-90)" font-size="11.4" font-weight="bold" text-anchor="end"><tspan font-family="Liberation Serif" font-weight="normal" font-size="12.8" stroke="#000" stroke-width="0.2">δ</tspan>F</text>
<path d="M9.90 481.40H17.90M9.90 477.30H17.90" stroke="#555" stroke-width="0.8" fill="none"/>
<text transform="translate(14.10,468.57) rotate(-90)" font-size="11.4" font-weight="bold">(10<tspan font-size="7.6" dy="-4.6">22</tspan><tspan dy="4.6"> dyn)</tspan></text>
<text transform="translate(14.10,577.38) rotate(-90)" font-size="11.4" font-weight="bold" text-anchor="end"><tspan font-family="Liberation Serif" font-weight="normal" font-size="12.8" stroke="#000" stroke-width="0.2">δ</tspan>F</text>
<path d="M12.20 576.60H16.40M16.40 574.50V578.70" stroke="#555" stroke-width="0.8" fill="none"/>
<text transform="translate(14.10,567.47) rotate(-90)" font-size="11.4" font-weight="bold">(10<tspan font-size="7.6" dy="-4.6">22</tspan><tspan dy="4.6"> dyn)</tspan></text>
<text transform="translate(20.60,668.86) rotate(-90)" font-size="11.4" font-weight="bold" text-anchor="end"><tspan font-family="Liberation Serif" font-weight="normal" font-size="12.8" stroke="#000" stroke-width="0.2">δ</tspan>S</text>
<g transform="translate(20.60,685.79) rotate(-90)"><path d="M-0.30 -10.20C-0.50 -11.20 -1.40 -11.10 -1.55 -9.60L-2.25 -1.40C-2.40 0.20 -3.20 0.40 -3.45 -0.40M-0.70 -10.40h0.01M-3.10 -0.20h0.01" stroke="#222" stroke-width="0.8" stroke-linecap="round" fill="none"/></g>
<text transform="translate(23.40,669.90) rotate(-90)" font-size="8" font-weight="bold">h</text>
<text transform="translate(20.60,657.67) rotate(-90)" font-size="11.4" font-weight="bold">(10<tspan font-size="7.6" dy="-4.6">22</tspan><tspan dy="4.6"> Mx)</tspan></text>
<text transform="translate(11.40,766.26) rotate(-90)" font-size="11.4" font-weight="bold" text-anchor="end"><tspan font-family="Liberation Serif" font-weight="normal" font-size="12.8" stroke="#000" stroke-width="0.2">δ</tspan>S</text>
<g transform="translate(11.40,783.19) rotate(-90)"><path d="M-0.30 -10.20C-0.50 -11.20 -1.40 -11.10 -1.55 -9.60L-2.25 -1.40C-2.40 0.20 -3.20 0.40 -3.45 -0.40M-0.70 -10.40h0.01M-3.10 -0.20h0.01" stroke="#222" stroke-width="0.8" stroke-linecap="round" fill="none"/></g>
<text transform="translate(14.20,767.30) rotate(-90)" font-size="8" font-weight="bold">v</text>
<text transform="translate(11.40,755.87) rotate(-90)" font-size="11.4" font-weight="bold">(10<tspan font-size="7.6" dy="-4.6">22</tspan><tspan dy="4.6"> Mx)</tspan></text>
<g fill="#ff0000"><circle cx="43.33" cy="99.10" r="3.25"/><circle cx="51.18" cy="96.10" r="3.25"/><circle cx="59.03" cy="101.10" r="3.25"/><circle cx="66.88" cy="101.10" r="3.25"/><circle cx="74.73" cy="97.90" r="3.25"/><circle cx="82.58" cy="98.10" r="3.25"/><circle cx="90.44" cy="94.40" r="3.25"/><circle cx="98.29" cy="94.90" r="3.25"/><circle cx="106.14" cy="95.60" r="3.25"/><circle cx="113.99" cy="96.10" r="3.25"/><circle cx="121.84" cy="96.10" r="3.25"/><circle cx="129.69" cy="90.40" r="3.25"/><circle cx="137.55" cy="92.40" r="3.25"/><circle cx="145.40" cy="99.60" r="3.25"/><circle cx="153.25" cy="105.30" r="3.25"/><circle cx="161.10" cy="98.50" r="3.25"/><circle cx="168.95" cy="92.90" r="3.25"/><circle cx="176.80" cy="98.60" r="3.25"/><circle cx="184.66" cy="92.10" r="3.25"/><circle cx="192.51" cy="94.10" r="3.25"/><circle cx="200.36" cy="88.60" r="3.25"/><circle cx="208.21" cy="86.60" r="3.25"/><circle cx="216.06" cy="82.10" r="3.25"/><circle cx="223.91" cy="91.60" r="3.25"/><circle cx="231.77" cy="92.10" r="3.25"/><circle cx="239.62" cy="80.90" r="3.25"/><circle cx="247.47" cy="81.10" r="3.25"/><circle cx="255.32" cy="77.90" r="3.25"/><circle cx="263.17" cy="88.40" r="3.25"/><circle cx="271.02" cy="81.60" r="3.25"/><circle cx="278.88" cy="87.40" r="3.25"/><circle cx="286.73" cy="41.70" r="3.25"/><circle cx="294.58" cy="49.20" r="3.25"/><circle cx="302.43" cy="78.40" r="3.25"/><circle cx="310.28" cy="81.60" r="3.25"/><circle cx="318.13" cy="80.90" r="3.25"/><circle cx="325.99" cy="83.60" r="3.25"/><circle cx="333.84" cy="82.40" r="3.25"/><circle cx="341.69" cy="85.40" r="3.25"/><circle cx="349.54" cy="89.10" r="3.25"/><circle cx="357.39" cy="87.40" r="3.25"/><circle cx="388.80" cy="85.40" r="3.25"/><circle cx="396.65" cy="81.10" r="3.25"/><circle cx="404.50" cy="85.10" r="3.25"/><circle cx="412.35" cy="88.40" r="3.25"/><circle cx="420.21" cy="94.10" r="3.25"/><circle cx="428.06" cy="96.60" r="3.25"/><circle cx="435.91" cy="97.10" r="3.25"/><circle cx="443.76" cy="93.40" r="3.25"/><circle cx="451.61" cy="92.10" r="3.25"/><circle cx="459.46" cy="96.60" r="3.25"/><circle cx="467.32" cy="97.90" r="3.25"/><circle cx="475.17" cy="94.10" r="3.25"/><circle cx="483.02" cy="90.90" r="3.25"/><circle cx="490.87" cy="89.90" r="3.25"/><circle cx="498.72" cy="88.60" r="3.25"/><circle cx="506.57" cy="90.40" r="3.25"/></g>
<path d="M40.38 93.45L46.28 99.35M40.38 99.35L46.28 93.45M48.23 88.15L54.13 94.05M48.23 94.05L54.13 88.15M56.08 87.45L61.98 93.35M56.08 93.35L61.98 87.45M63.93 89.95L69.83 95.85M63.93 95.85L69.83 89.95M71.78 97.35L77.68 103.25M71.78 103.25L77.68 97.35M79.63 92.45L85.53 98.35M79.63 98.35L85.53 92.45M87.49 97.35L93.39 103.25M87.49 103.25L93.39 97.35M95.34 88.15L101.24 94.05M95.34 94.05L101.24 88.15M103.19 83.65L109.09 89.55M103.19 89.55L109.09 83.65M111.04 84.45L116.94 90.35M111.04 90.35L116.94 84.45M118.89 90.65L124.79 96.55M118.89 96.55L124.79 90.65M126.74 92.45L132.64 98.35M126.74 98.35L132.64 92.45M134.60 94.45L140.50 100.35M134.60 100.35L140.50 94.45M142.45 90.65L148.35 96.55M142.45 96.55L148.35 90.65M150.30 91.95L156.20 97.85M150.30 97.85L156.20 91.95M158.15 94.95L164.05 100.85M158.15 100.85L164.05 94.95M166.00 96.85L171.90 102.75M166.00 102.75L171.90 96.85M173.85 89.95L179.75 95.85M173.85 95.85L179.75 89.95M181.71 94.45L187.61 100.35M181.71 100.35L187.61 94.45M189.56 91.15L195.46 97.05M189.56 97.05L195.46 91.15M197.41 86.15L203.31 92.05M197.41 92.05L203.31 86.15M205.26 86.95L211.16 92.85M205.26 92.85L211.16 86.95M213.11 92.45L219.01 98.35M213.11 98.35L219.01 92.45M220.96 75.45L226.86 81.35M220.96 81.35L226.86 75.45M228.82 85.45L234.72 91.35M228.82 91.35L234.72 85.45M236.67 84.95L242.57 90.85M236.67 90.85L242.57 84.95M244.52 78.65L250.42 84.55M244.52 84.55L250.42 78.65M252.37 79.45L258.27 85.35M252.37 85.35L258.27 79.45M260.22 67.45L266.12 73.35M260.22 73.35L266.12 67.45M268.07 77.95L273.97 83.85M268.07 83.85L273.97 77.95M275.93 71.65L281.83 77.55M275.93 77.55L281.83 71.65M283.78 37.05L289.68 42.95M283.78 42.95L289.68 37.05M291.63 38.25L297.53 44.15M291.63 44.15L297.53 38.25M299.48 65.75L305.38 71.65M299.48 71.65L305.38 65.75M307.33 76.15L313.23 82.05M307.33 82.05L313.23 76.15M315.18 83.65L321.08 89.55M315.18 89.55L321.08 83.65M323.04 82.45L328.94 88.35M323.04 88.35L328.94 82.45M330.89 89.95L336.79 95.85M330.89 95.85L336.79 89.95M338.74 87.95L344.64 93.85M338.74 93.85L344.64 87.95M346.59 79.95L352.49 85.85M346.59 85.85L352.49 79.95M354.44 89.15L360.34 95.05M354.44 95.05L360.34 89.15M385.85 81.15L391.75 87.05M385.85 87.05L391.75 81.15M393.70 92.45L399.60 98.35M393.70 98.35L399.60 92.45M401.55 84.45L407.45 90.35M401.55 90.35L407.45 84.45M409.40 84.05L415.30 89.95M409.40 89.95L415.30 84.05M417.26 87.95L423.16 93.85M417.26 93.85L423.16 87.95M425.11 80.45L431.01 86.35M425.11 86.35L431.01 80.45M432.96 82.45L438.86 88.35M432.96 88.35L438.86 82.45M440.81 83.65L446.71 89.55M440.81 89.55L446.71 83.65M448.66 86.65L454.56 92.55M448.66 92.55L454.56 86.65M456.51 83.65L462.41 89.55M456.51 89.55L462.41 83.65M464.37 85.65L470.27 91.55M464.37 91.55L470.27 85.65M472.22 79.45L478.12 85.35M472.22 85.35L478.12 79.45M480.07 83.65L485.97 89.55M480.07 89.55L485.97 83.65M487.92 86.15L493.82 92.05M487.92 92.05L493.82 86.15M495.77 81.15L501.67 87.05M495.77 87.05L501.67 81.15M503.62 82.45L509.52 88.35M503.62 88.35L509.52 82.45" stroke="#0000ff" stroke-width="1.05" fill="none"/>
<g fill="#ff0000"><circle cx="43.33" cy="191.90" r="3.25"/><circle cx="51.18" cy="189.40" r="3.25"/><circle cx="59.03" cy="201.10" r="3.25"/><circle cx="66.88" cy="205.30" r="3.25"/><circle cx="74.73" cy="197.80" r="3.25"/><circle cx="82.58" cy="198.60" r="3.25"/><circle cx="90.44" cy="201.10" r="3.25"/><circle cx="98.29" cy="194.90" r="3.25"/><circle cx="106.14" cy="195.40" r="3.25"/><circle cx="113.99" cy="195.40" r="3.25"/><circle cx="121.84" cy="196.80" r="3.25"/><circle cx="129.69" cy="200.30" r="3.25"/><circle cx="137.55" cy="197.80" r="3.25"/><circle cx="145.40" cy="198.60" r="3.25"/><circle cx="153.25" cy="197.30" r="3.25"/><circle cx="161.10" cy="194.40" r="3.25"/><circle cx="168.95" cy="195.10" r="3.25"/><circle cx="176.80" cy="194.90" r="3.25"/><circle cx="184.66" cy="189.40" r="3.25"/><circle cx="192.51" cy="196.60" r="3.25"/><circle cx="200.36" cy="187.90" r="3.25"/><circle cx="208.21" cy="188.60" r="3.25"/><circle cx="216.06" cy="181.10" r="3.25"/><circle cx="223.91" cy="186.10" r="3.25"/><circle cx="231.77" cy="191.10" r="3.25"/><circle cx="239.62" cy="187.40" r="3.25"/><circle cx="247.47" cy="183.10" r="3.25"/><circle cx="255.32" cy="183.60" r="3.25"/><circle cx="263.17" cy="189.40" r="3.25"/><circle cx="271.02" cy="185.60" r="3.25"/><circle cx="278.88" cy="181.10" r="3.25"/><circle cx="286.73" cy="167.90" r="3.25"/><circle cx="294.58" cy="166.20" r="3.25"/><circle cx="302.43" cy="179.10" r="3.25"/><circle cx="310.28" cy="179.10" r="3.25"/><circle cx="318.13" cy="187.90" r="3.25"/><circle cx="325.99" cy="187.90" r="3.25"/><circle cx="333.84" cy="189.10" r="3.25"/><circle cx="341.69" cy="191.10" r="3.25"/><circle cx="349.54" cy="176.90" r="3.25"/><circle cx="357.39" cy="187.40" r="3.25"/><circle cx="388.80" cy="184.90" r="3.25"/><circle cx="396.65" cy="191.60" r="3.25"/><circle cx="404.50" cy="189.60" r="3.25"/><circle cx="412.35" cy="179.40" r="3.25"/><circle cx="420.21" cy="194.90" r="3.25"/><circle cx="428.06" cy="192.90" r="3.25"/><circle cx="435.91" cy="192.90" r="3.25"/><circle cx="443.76" cy="191.90" r="3.25"/><circle cx="451.61" cy="199.30" r="3.25"/><circle cx="459.46" cy="194.10" r="3.25"/><circle cx="467.32" cy="183.10" r="3.25"/><circle cx="475.17" cy="187.40" r="3.25"/><circle cx="483.02" cy="194.40" r="3.25"/><circle cx="490.87" cy="193.10" r="3.25"/><circle cx="498.72" cy="191.90" r="3.25"/><circle cx="506.57" cy="193.10" r="3.25"/></g>
<path d="M40.38 196.85L46.28 202.75M40.38 202.75L46.28 196.85M48.23 195.65L54.13 201.55M48.23 201.55L54.13 195.65M56.08 190.15L61.98 196.05M56.08 196.05L61.98 190.15M63.93 191.95L69.83 197.85M63.93 197.85L69.83 191.95M71.78 200.15L77.68 206.05M71.78 206.05L77.68 200.15M79.63 193.85L85.53 199.75M79.63 199.75L85.53 193.85M87.49 189.45L93.39 195.35M87.49 195.35L93.39 189.45M95.34 186.95L101.24 192.85M95.34 192.85L101.24 186.95M103.19 178.95L109.09 184.85M103.19 184.85L109.09 178.95M111.04 183.95L116.94 189.85M111.04 189.85L116.94 183.95M118.89 188.95L124.79 194.85M118.89 194.85L124.79 188.95M126.74 183.95L132.64 189.85M126.74 189.85L132.64 183.95M134.60 185.65L140.50 191.55M134.60 191.55L140.50 185.65M142.45 185.65L148.35 191.55M142.45 191.55L148.35 185.65M150.30 193.15L156.20 199.05M150.30 199.05L156.20 193.15M158.15 188.75L164.05 194.65M158.15 194.65L164.05 188.75M166.00 187.25L171.90 193.15M166.00 193.15L171.90 187.25M173.85 191.95L179.75 197.85M173.85 197.85L179.75 191.95M181.71 192.65L187.61 198.55M181.71 198.55L187.61 192.65M189.56 186.95L195.46 192.85M189.56 192.85L195.46 186.95M197.41 189.45L203.31 195.35M197.41 195.35L203.31 189.45M205.26 191.95L211.16 197.85M205.26 197.85L211.16 191.95M213.11 191.45L219.01 197.35M213.11 197.35L219.01 191.45M220.96 183.15L226.86 189.05M220.96 189.05L226.86 183.15M228.82 186.45L234.72 192.35M228.82 192.35L234.72 186.45M236.67 187.65L242.57 193.55M236.67 193.55L242.57 187.65M244.52 183.95L250.42 189.85M244.52 189.85L250.42 183.95M252.37 179.45L258.27 185.35M252.37 185.35L258.27 179.45M260.22 183.15L266.12 189.05M260.22 189.05L266.12 183.15M268.07 182.45L273.97 188.35M268.07 188.35L273.97 182.45M275.93 184.45L281.83 190.35M275.93 190.35L281.83 184.45M283.78 131.25L289.68 137.15M283.78 137.15L289.68 131.25M291.63 154.45L297.53 160.35M291.63 160.35L297.53 154.45M299.48 174.45L305.38 180.35M299.48 180.35L305.38 174.45M307.33 186.45L313.23 192.35M307.33 192.35L313.23 186.45M315.18 185.65L321.08 191.55M315.18 191.55L321.08 185.65M323.04 196.35L328.94 202.25M323.04 202.25L328.94 196.35M330.89 195.65L336.79 201.55M330.89 201.55L336.79 195.65M338.74 183.95L344.64 189.85M338.74 189.85L344.64 183.95M346.59 191.45L352.49 197.35M346.59 197.35L352.49 191.45M354.44 190.15L360.34 196.05M354.44 196.05L360.34 190.15M385.85 178.15L391.75 184.05M385.85 184.05L391.75 178.15M393.70 181.45L399.60 187.35M393.70 187.35L399.60 181.45M401.55 189.15L407.45 195.05M401.55 195.05L407.45 189.15M409.40 191.45L415.30 197.35M409.40 197.35L415.30 191.45M417.26 186.95L423.16 192.85M417.26 192.85L423.16 186.95M425.11 186.95L431.01 192.85M425.11 192.85L431.01 186.95M432.96 188.65L438.86 194.55M432.96 194.55L438.86 188.65M440.81 182.45L446.71 188.35M440.81 188.35L446.71 182.45M448.66 182.65L454.56 188.55M448.66 188.55L454.56 182.65M456.51 190.15L462.41 196.05M456.51 196.05L462.41 190.15M464.37 193.15L470.27 199.05M464.37 199.05L470.27 193.15M472.22 189.45L478.12 195.35M472.22 195.35L478.12 189.45M480.07 183.65L485.97 189.55M480.07 189.55L485.97 183.65M487.92 183.15L493.82 189.05M487.92 189.05L493.82 183.15M495.77 179.45L501.67 185.35M495.77 185.35L501.67 179.45M503.62 177.65L509.52 183.55M503.62 183.55L509.52 177.65" stroke="#0000ff" stroke-width="1.05" fill="none"/>
<g fill="#ff0000"><circle cx="43.33" cy="295.10" r="3.25"/><circle cx="51.18" cy="292.60" r="3.25"/><circle cx="59.03" cy="300.10" r="3.25"/><circle cx="66.88" cy="295.60" r="3.25"/><circle cx="74.73" cy="302.30" r="3.25"/><circle cx="82.58" cy="300.10" r="3.25"/><circle cx="90.44" cy="298.60" r="3.25"/><circle cx="98.29" cy="282.60" r="3.25"/><circle cx="106.14" cy="285.10" r="3.25"/><circle cx="113.99" cy="293.60" r="3.25"/><circle cx="121.84" cy="294.80" r="3.25"/><circle cx="129.69" cy="291.10" r="3.25"/><circle cx="137.55" cy="293.80" r="3.25"/><circle cx="145.40" cy="293.80" r="3.25"/><circle cx="153.25" cy="300.10" r="3.25"/><circle cx="161.10" cy="299.70" r="3.25"/><circle cx="168.95" cy="294.10" r="3.25"/><circle cx="176.80" cy="298.10" r="3.25"/><circle cx="184.66" cy="293.80" r="3.25"/><circle cx="192.51" cy="292.30" r="3.25"/><circle cx="200.36" cy="294.80" r="3.25"/><circle cx="208.21" cy="288.10" r="3.25"/><circle cx="216.06" cy="290.60" r="3.25"/><circle cx="223.91" cy="285.60" r="3.25"/><circle cx="231.77" cy="293.60" r="3.25"/><circle cx="239.62" cy="281.10" r="3.25"/><circle cx="247.47" cy="289.90" r="3.25"/><circle cx="255.32" cy="283.10" r="3.25"/><circle cx="263.17" cy="292.30" r="3.25"/><circle cx="271.02" cy="294.30" r="3.25"/><circle cx="278.88" cy="298.80" r="3.25"/><circle cx="286.73" cy="230.00" r="3.25"/><circle cx="294.58" cy="250.20" r="3.25"/><circle cx="302.43" cy="284.40" r="3.25"/><circle cx="310.28" cy="285.60" r="3.25"/><circle cx="318.13" cy="285.60" r="3.25"/><circle cx="325.99" cy="291.30" r="3.25"/><circle cx="333.84" cy="293.10" r="3.25"/><circle cx="341.69" cy="292.60" r="3.25"/><circle cx="349.54" cy="292.60" r="3.25"/><circle cx="357.39" cy="298.10" r="3.25"/><circle cx="388.80" cy="280.60" r="3.25"/><circle cx="396.65" cy="283.90" r="3.25"/><circle cx="404.50" cy="290.10" r="3.25"/><circle cx="412.35" cy="292.60" r="3.25"/><circle cx="420.21" cy="295.60" r="3.25"/><circle cx="428.06" cy="294.80" r="3.25"/><circle cx="435.91" cy="293.60" r="3.25"/><circle cx="443.76" cy="289.90" r="3.25"/><circle cx="451.61" cy="294.30" r="3.25"/><circle cx="459.46" cy="293.10" r="3.25"/><circle cx="467.32" cy="295.10" r="3.25"/><circle cx="475.17" cy="291.10" r="3.25"/><circle cx="483.02" cy="286.90" r="3.25"/><circle cx="490.87" cy="294.80" r="3.25"/><circle cx="498.72" cy="289.90" r="3.25"/><circle cx="506.57" cy="291.10" r="3.25"/></g>
<path d="M40.38 298.15L46.28 304.05M40.38 304.05L46.28 298.15M48.23 293.35L54.13 299.25M48.23 299.25L54.13 293.35M56.08 293.35L61.98 299.25M56.08 299.25L61.98 293.35M63.93 300.65L69.83 306.55M63.93 306.55L69.83 300.65M71.78 293.85L77.68 299.75M71.78 299.75L77.68 293.85M79.63 294.65L85.53 300.55M79.63 300.55L85.53 294.65M87.49 296.35L93.39 302.25M87.49 302.25L93.39 296.35M95.34 298.85L101.24 304.75M95.34 304.75L101.24 298.85M103.19 295.15L109.09 301.05M103.19 301.05L109.09 295.15M111.04 291.85L116.94 297.75M111.04 297.75L116.94 291.85M118.89 294.65L124.79 300.55M118.89 300.55L124.79 294.65M126.74 297.15L132.64 303.05M126.74 303.05L132.64 297.15M134.60 296.85L140.50 302.75M134.60 302.75L140.50 296.85M142.45 297.15L148.35 303.05M142.45 303.05L148.35 297.15M150.30 293.35L156.20 299.25M150.30 299.25L156.20 293.35M158.15 293.65L164.05 299.55M158.15 299.55L164.05 293.65M166.00 294.25L171.90 300.15M166.00 300.15L171.90 294.25M173.85 293.35L179.75 299.25M173.85 299.25L179.75 293.35M181.71 295.65L187.61 301.55M181.71 301.55L187.61 295.65M189.56 293.35L195.46 299.25M189.56 299.25L195.46 293.35M197.41 287.65L203.31 293.55M197.41 293.55L203.31 287.65M205.26 291.35L211.16 297.25M205.26 297.25L211.16 291.35M213.11 291.85L219.01 297.75M213.11 297.75L219.01 291.85M220.96 290.85L226.86 296.75M220.96 296.75L226.86 290.85M228.82 293.85L234.72 299.75M228.82 299.75L234.72 293.85M236.67 293.35L242.57 299.25M236.67 299.25L242.57 293.35M244.52 277.65L250.42 283.55M244.52 283.55L250.42 277.65M252.37 286.95L258.27 292.85M252.37 292.85L258.27 286.95M260.22 274.45L266.12 280.35M260.22 280.35L266.12 274.45M268.07 284.65L273.97 290.55M268.07 290.55L273.97 284.65M275.93 274.45L281.83 280.35M275.93 280.35L281.83 274.45M283.78 274.15L289.68 280.05M283.78 280.05L289.68 274.15M291.63 278.45L297.53 284.35M291.63 284.35L297.53 278.45M299.48 283.45L305.38 289.35M299.48 289.35L305.38 283.45M307.33 285.15L313.23 291.05M307.33 291.05L313.23 285.15M315.18 291.35L321.08 297.25M315.18 297.25L321.08 291.35M323.04 295.15L328.94 301.05M323.04 301.05L328.94 295.15M330.89 293.85L336.79 299.75M330.89 299.75L336.79 293.85M338.74 293.35L344.64 299.25M338.74 299.25L344.64 293.35M346.59 288.35L352.49 294.25M346.59 294.25L352.49 288.35M354.44 288.35L360.34 294.25M354.44 294.25L360.34 288.35M385.85 284.65L391.75 290.55M385.85 290.55L391.75 284.65M393.70 290.15L399.60 296.05M393.70 296.05L399.60 290.15M401.55 293.85L407.45 299.75M401.55 299.75L407.45 293.85M409.40 284.55L415.30 290.45M409.40 290.45L415.30 284.55M417.26 291.85L423.16 297.75M417.26 297.75L423.16 291.85M425.11 287.65L431.01 293.55M425.11 293.55L431.01 287.65M432.96 293.35L438.86 299.25M432.96 299.25L438.86 293.35M440.81 292.15L446.71 298.05M440.81 298.05L446.71 292.15M448.66 296.35L454.56 302.25M448.66 302.25L454.56 296.35M456.51 293.85L462.41 299.75M456.51 299.75L462.41 293.85M464.37 293.35L470.27 299.25M464.37 299.25L470.27 293.35M472.22 290.15L478.12 296.05M472.22 296.05L478.12 290.15M480.07 293.85L485.97 299.75M480.07 299.75L485.97 293.85M487.92 288.95L493.82 294.85M487.92 294.85L493.82 288.95M495.77 287.65L501.67 293.55M495.77 293.55L501.67 287.65M503.62 289.65L509.52 295.55M503.62 295.55L509.52 289.65" stroke="#0000ff" stroke-width="1.05" fill="none"/>
<g fill="#ff0000"><circle cx="43.33" cy="400.00" r="3.25"/><circle cx="51.18" cy="398.70" r="3.25"/><circle cx="59.03" cy="396.20" r="3.25"/><circle cx="66.88" cy="399.50" r="3.25"/><circle cx="74.73" cy="399.50" r="3.25"/><circle cx="82.58" cy="399.50" r="3.25"/><circle cx="90.44" cy="400.00" r="3.25"/><circle cx="98.29" cy="398.20" r="3.25"/><circle cx="106.14" cy="395.00" r="3.25"/><circle cx="113.99" cy="395.50" r="3.25"/><circle cx="121.84" cy="397.50" r="3.25"/><circle cx="129.69" cy="398.00" r="3.25"/><circle cx="137.55" cy="400.70" r="3.25"/><circle cx="145.40" cy="400.70" r="3.25"/><circle cx="153.25" cy="402.50" r="3.25"/><circle cx="161.10" cy="397.00" r="3.25"/><circle cx="168.95" cy="400.10" r="3.25"/><circle cx="176.80" cy="393.80" r="3.25"/><circle cx="184.66" cy="400.10" r="3.25"/><circle cx="192.51" cy="398.80" r="3.25"/><circle cx="200.36" cy="398.30" r="3.25"/><circle cx="208.21" cy="398.10" r="3.25"/><circle cx="216.06" cy="396.80" r="3.25"/><circle cx="223.91" cy="390.80" r="3.25"/><circle cx="231.77" cy="395.10" r="3.25"/><circle cx="239.62" cy="395.80" r="3.25"/><circle cx="247.47" cy="390.80" r="3.25"/><circle cx="255.32" cy="393.10" r="3.25"/><circle cx="263.17" cy="393.30" r="3.25"/><circle cx="271.02" cy="394.60" r="3.25"/><circle cx="278.88" cy="393.10" r="3.25"/><circle cx="286.73" cy="385.10" r="3.25"/><circle cx="294.58" cy="354.70" r="3.25"/><circle cx="302.43" cy="381.90" r="3.25"/><circle cx="310.28" cy="382.60" r="3.25"/><circle cx="318.13" cy="388.40" r="3.25"/><circle cx="325.99" cy="392.10" r="3.25"/><circle cx="333.84" cy="390.10" r="3.25"/><circle cx="341.69" cy="391.80" r="3.25"/><circle cx="349.54" cy="386.90" r="3.25"/><circle cx="357.39" cy="394.30" r="3.25"/><circle cx="388.80" cy="389.60" r="3.25"/><circle cx="396.65" cy="392.60" r="3.25"/><circle cx="404.50" cy="392.90" r="3.25"/><circle cx="412.35" cy="390.80" r="3.25"/><circle cx="420.21" cy="396.30" r="3.25"/><circle cx="428.06" cy="393.30" r="3.25"/><circle cx="435.91" cy="395.10" r="3.25"/><circle cx="443.76" cy="397.60" r="3.25"/><circle cx="451.61" cy="393.80" r="3.25"/><circle cx="459.46" cy="396.80" r="3.25"/><circle cx="467.32" cy="396.80" r="3.25"/><circle cx="475.17" cy="391.80" r="3.25"/><circle cx="483.02" cy="391.80" r="3.25"/><circle cx="490.87" cy="393.80" r="3.25"/><circle cx="498.72" cy="388.10" r="3.25"/><circle cx="506.57" cy="393.80" r="3.25"/></g>
<path d="M40.38 393.25L46.28 399.15M40.38 399.15L46.28 393.25M48.23 390.05L54.13 395.95M48.23 395.95L54.13 390.05M56.08 398.25L61.98 404.15M56.08 404.15L61.98 398.25M63.93 396.55L69.83 402.45M63.93 402.45L69.83 396.55M71.78 397.75L77.68 403.65M71.78 403.65L77.68 397.75M79.63 396.55L85.53 402.45M79.63 402.45L85.53 396.55M87.49 397.05L93.39 402.95M87.49 402.95L93.39 397.05M95.34 392.05L101.24 397.95M95.34 397.95L101.24 392.05M103.19 392.55L109.09 398.45M103.19 398.45L109.09 392.55M111.04 396.25L116.94 402.15M111.04 402.15L116.94 396.25M118.89 394.55L124.79 400.45M118.89 400.45L124.79 394.55M126.74 395.05L132.64 400.95M126.74 400.95L132.64 395.05M134.60 391.25L140.50 397.15M134.60 397.15L140.50 391.25M142.45 395.05L148.35 400.95M142.45 400.95L148.35 395.05M150.30 395.75L156.20 401.65M150.30 401.65L156.20 395.75M158.15 397.35L164.05 403.25M158.15 403.25L164.05 397.35M166.00 393.85L171.90 399.75M166.00 399.75L171.90 393.85M173.85 398.85L179.75 404.75M173.85 404.75L179.75 398.85M181.71 394.15L187.61 400.05M181.71 400.05L187.61 394.15M189.56 392.85L195.46 398.75M189.56 398.75L195.46 392.85M197.41 389.15L203.31 395.05M197.41 395.05L203.31 389.15M205.26 390.35L211.16 396.25M205.26 396.25L211.16 390.35M213.11 389.15L219.01 395.05M213.11 395.05L219.01 389.15M220.96 394.15L226.86 400.05M220.96 400.05L226.86 394.15M228.82 394.65L234.72 400.55M228.82 400.55L234.72 394.65M236.67 387.15L242.57 393.05M236.67 393.05L242.57 387.15M244.52 390.35L250.42 396.25M244.52 396.25L250.42 390.35M252.37 385.85L258.27 391.75M252.37 391.75L258.27 385.85M260.22 389.65L266.12 395.55M260.22 395.55L266.12 389.65M268.07 387.65L273.97 393.55M268.07 393.55L273.97 387.65M275.93 385.85L281.83 391.75M275.93 391.75L281.83 385.85M283.78 322.75L289.68 328.65M283.78 328.65L289.68 322.75M291.63 373.45L297.53 379.35M291.63 379.35L297.53 373.45M299.48 388.35L305.38 394.25M299.48 394.25L305.38 388.35M307.33 392.85L313.23 398.75M307.33 398.75L313.23 392.85M315.18 390.85L321.08 396.75M315.18 396.75L321.08 390.85M323.04 392.85L328.94 398.75M323.04 398.75L328.94 392.85M330.89 396.65L336.79 402.55M330.89 402.55L336.79 396.65M338.74 390.35L344.64 396.25M338.74 396.25L344.64 390.35M346.59 394.65L352.49 400.55M346.59 400.55L352.49 394.65M354.44 389.65L360.34 395.55M354.44 395.55L360.34 389.65M385.85 385.85L391.75 391.75M385.85 391.75L391.75 385.85M393.70 389.65L399.60 395.55M393.70 395.55L399.60 389.65M401.55 388.35L407.45 394.25M401.55 394.25L407.45 388.35M409.40 387.15L415.30 393.05M409.40 393.05L415.30 387.15M417.26 389.65L423.16 395.55M417.26 395.55L423.16 389.65M425.11 389.15L431.01 395.05M425.11 395.05L431.01 389.15M432.96 389.65L438.86 395.55M432.96 395.55L438.86 389.65M440.81 383.45L446.71 389.35M440.81 389.35L446.71 383.45M448.66 390.85L454.56 396.75M448.66 396.75L454.56 390.85M456.51 390.35L462.41 396.25M456.51 396.25L462.41 390.35M464.37 388.35L470.27 394.25M464.37 394.25L470.27 388.35M472.22 388.35L478.12 394.25M472.22 394.25L478.12 388.35M480.07 388.35L485.97 394.25M480.07 394.25L485.97 388.35M487.92 390.35L493.82 396.25M487.92 396.25L493.82 390.35M495.77 388.85L501.67 394.75M495.77 394.75L501.67 388.85M503.62 385.45L509.52 391.35M503.62 391.35L509.52 385.45" stroke="#0000ff" stroke-width="1.05" fill="none"/>
<g fill="#ff0000"><circle cx="43.33" cy="493.30" r="3.25"/><circle cx="51.18" cy="494.60" r="3.25"/><circle cx="59.03" cy="494.60" r="3.25"/><circle cx="66.88" cy="496.30" r="3.25"/><circle cx="74.73" cy="495.80" r="3.25"/><circle cx="82.58" cy="494.10" r="3.25"/><circle cx="90.44" cy="495.80" r="3.25"/><circle cx="98.29" cy="495.30" r="3.25"/><circle cx="106.14" cy="490.80" r="3.25"/><circle cx="113.99" cy="490.80" r="3.25"/><circle cx="121.84" cy="493.30" r="3.25"/><circle cx="129.69" cy="486.30" r="3.25"/><circle cx="137.55" cy="492.10" r="3.25"/><circle cx="145.40" cy="488.80" r="3.25"/><circle cx="153.25" cy="494.10" r="3.25"/><circle cx="161.10" cy="491.00" r="3.25"/><circle cx="168.95" cy="482.90" r="3.25"/><circle cx="176.80" cy="492.80" r="3.25"/><circle cx="184.66" cy="489.10" r="3.25"/><circle cx="192.51" cy="490.10" r="3.25"/><circle cx="200.36" cy="484.60" r="3.25"/><circle cx="208.21" cy="482.90" r="3.25"/><circle cx="216.06" cy="488.80" r="3.25"/><circle cx="223.91" cy="489.10" r="3.25"/><circle cx="231.77" cy="490.30" r="3.25"/><circle cx="239.62" cy="486.60" r="3.25"/><circle cx="247.47" cy="482.90" r="3.25"/><circle cx="255.32" cy="480.90" r="3.25"/><circle cx="263.17" cy="480.10" r="3.25"/><circle cx="271.02" cy="488.30" r="3.25"/><circle cx="278.88" cy="481.40" r="3.25"/><circle cx="286.73" cy="457.90" r="3.25"/><circle cx="294.58" cy="448.40" r="3.25"/><circle cx="302.43" cy="473.40" r="3.25"/><circle cx="310.28" cy="480.90" r="3.25"/><circle cx="318.13" cy="480.90" r="3.25"/><circle cx="325.99" cy="481.60" r="3.25"/><circle cx="333.84" cy="479.60" r="3.25"/><circle cx="341.69" cy="479.60" r="3.25"/><circle cx="349.54" cy="478.90" r="3.25"/><circle cx="357.39" cy="485.10" r="3.25"/><circle cx="388.80" cy="478.40" r="3.25"/><circle cx="396.65" cy="480.50" r="3.25"/><circle cx="404.50" cy="487.60" r="3.25"/><circle cx="412.35" cy="488.30" r="3.25"/><circle cx="420.21" cy="485.90" r="3.25"/><circle cx="428.06" cy="486.60" r="3.25"/><circle cx="435.91" cy="488.30" r="3.25"/><circle cx="443.76" cy="489.10" r="3.25"/><circle cx="451.61" cy="487.80" r="3.25"/><circle cx="459.46" cy="490.30" r="3.25"/><circle cx="467.32" cy="490.80" r="3.25"/><circle cx="475.17" cy="484.60" r="3.25"/><circle cx="483.02" cy="480.90" r="3.25"/><circle cx="490.87" cy="483.90" r="3.25"/><circle cx="498.72" cy="480.40" r="3.25"/><circle cx="506.57" cy="483.40" r="3.25"/></g>
<path d="M40.38 492.85L46.28 498.75M40.38 498.75L46.28 492.85M48.23 487.35L54.13 493.25M48.23 493.25L54.13 487.35M56.08 489.85L61.98 495.75M56.08 495.75L61.98 489.85M63.93 492.85L69.83 498.75M63.93 498.75L69.83 492.85M71.78 494.15L77.68 500.05M71.78 500.05L77.68 494.15M79.63 491.15L85.53 497.05M79.63 497.05L85.53 491.15M87.49 489.15L93.39 495.05M87.49 495.05L93.39 489.15M95.34 478.45L101.24 484.35M95.34 484.35L101.24 478.45M103.19 479.65L109.09 485.55M103.19 485.55L109.09 479.65M111.04 485.35L116.94 491.25M111.04 491.25L116.94 485.35M118.89 487.35L124.79 493.25M118.89 493.25L124.79 487.35M126.74 487.85L132.64 493.75M126.74 493.75L132.64 487.85M134.60 485.35L140.50 491.25M134.60 491.25L140.50 485.35M142.45 490.35L148.35 496.25M142.45 496.25L148.35 490.35M150.30 487.85L156.20 493.75M150.30 493.75L156.20 487.85M158.15 488.75L164.05 494.65M158.15 494.65L164.05 488.75M166.00 493.05L171.90 498.95M166.00 498.95L171.90 493.05M173.85 483.65L179.75 489.55M173.85 489.55L179.75 483.65M181.71 485.35L187.61 491.25M181.71 491.25L187.61 485.35M189.56 486.65L195.46 492.55M189.56 492.55L195.46 486.65M197.41 487.15L203.31 493.05M197.41 493.05L203.31 487.15M205.26 488.65L211.16 494.55M205.26 494.55L211.16 488.65M213.11 480.45L219.01 486.35M213.11 486.35L219.01 480.45M220.96 482.45L226.86 488.35M220.96 488.35L226.86 482.45M228.82 481.65L234.72 487.55M228.82 487.55L234.72 481.65M236.67 481.65L242.57 487.55M236.67 487.55L242.57 481.65M244.52 480.45L250.42 486.35M244.52 486.35L250.42 480.45M252.37 479.65L258.27 485.55M252.37 485.55L258.27 479.65M260.22 480.95L266.12 486.85M260.22 486.85L266.12 480.95M268.07 472.45L273.97 478.35M268.07 478.35L273.97 472.45M275.93 474.15L281.83 480.05M275.93 480.05L281.83 474.15M283.78 422.05L289.68 427.95M283.78 427.95L289.68 422.05M291.63 457.25L297.53 463.15M291.63 463.15L297.53 457.25M299.48 470.45L305.38 476.35M299.48 476.35L305.38 470.45M307.33 475.45L313.23 481.35M307.33 481.35L313.23 475.45M315.18 479.95L321.08 485.85M315.18 485.85L321.08 479.95M323.04 482.15L328.94 488.05M323.04 488.05L328.94 482.15M330.89 483.35L336.79 489.25M330.89 489.25L336.79 483.35M338.74 482.45L344.64 488.35M338.74 488.35L344.64 482.45M346.59 476.65L352.49 482.55M346.59 482.55L352.49 476.65M354.44 483.35L360.34 489.25M354.44 489.25L360.34 483.35M385.85 474.15L391.75 480.05M385.85 480.05L391.75 474.15M393.70 478.65L399.60 484.55M393.70 484.55L399.60 478.65M401.55 474.15L407.45 480.05M401.55 480.05L407.45 474.15M409.40 469.15L415.30 475.05M409.40 475.05L415.30 469.15M417.26 479.65L423.16 485.55M417.26 485.55L423.16 479.65M425.11 474.15L431.01 480.05M425.11 480.05L431.01 474.15M432.96 478.65L438.86 484.55M432.96 484.55L438.86 478.65M440.81 473.65L446.71 479.55M440.81 479.55L446.71 473.65M448.66 480.95L454.56 486.85M448.66 486.85L454.56 480.95M456.51 478.65L462.41 484.55M456.51 484.55L462.41 478.65M464.37 474.15L470.27 480.05M464.37 480.05L470.27 474.15M472.22 476.15L478.12 482.05M472.22 482.05L478.12 476.15M480.07 477.45L485.97 483.35M480.07 483.35L485.97 477.45M487.92 479.95L493.82 485.85M487.92 485.85L493.82 479.95M495.77 476.65L501.67 482.55M495.77 482.55L501.67 476.65M503.62 478.65L509.52 484.55M503.62 484.55L509.52 478.65" stroke="#0000ff" stroke-width="1.05" fill="none"/>
<g fill="#ff0000"><circle cx="43.33" cy="583.60" r="3.25"/><circle cx="51.18" cy="586.10" r="3.25"/><circle cx="59.03" cy="582.90" r="3.25"/><circle cx="66.88" cy="591.60" r="3.25"/><circle cx="74.73" cy="585.80" r="3.25"/><circle cx="82.58" cy="583.60" r="3.25"/><circle cx="90.44" cy="582.90" r="3.25"/><circle cx="98.29" cy="571.60" r="3.25"/><circle cx="106.14" cy="567.90" r="3.25"/><circle cx="113.99" cy="576.60" r="3.25"/><circle cx="121.84" cy="580.40" r="3.25"/><circle cx="129.69" cy="577.40" r="3.25"/><circle cx="137.55" cy="579.60" r="3.25"/><circle cx="145.40" cy="582.90" r="3.25"/><circle cx="153.25" cy="586.60" r="3.25"/><circle cx="161.10" cy="579.60" r="3.25"/><circle cx="168.95" cy="577.90" r="3.25"/><circle cx="176.80" cy="570.40" r="3.25"/><circle cx="184.66" cy="579.60" r="3.25"/><circle cx="192.51" cy="573.40" r="3.25"/><circle cx="200.36" cy="572.40" r="3.25"/><circle cx="208.21" cy="572.10" r="3.25"/><circle cx="216.06" cy="569.90" r="3.25"/><circle cx="223.91" cy="569.90" r="3.25"/><circle cx="231.77" cy="577.90" r="3.25"/><circle cx="239.62" cy="571.60" r="3.25"/><circle cx="247.47" cy="562.10" r="3.25"/><circle cx="255.32" cy="574.10" r="3.25"/><circle cx="263.17" cy="567.40" r="3.25"/><circle cx="271.02" cy="567.90" r="3.25"/><circle cx="278.88" cy="567.40" r="3.25"/><circle cx="286.73" cy="521.70" r="3.25"/><circle cx="294.58" cy="523.50" r="3.25"/><circle cx="302.43" cy="552.20" r="3.25"/><circle cx="310.28" cy="556.20" r="3.25"/><circle cx="318.13" cy="565.90" r="3.25"/><circle cx="325.99" cy="564.60" r="3.25"/><circle cx="333.84" cy="566.60" r="3.25"/><circle cx="341.69" cy="568.60" r="3.25"/><circle cx="349.54" cy="567.90" r="3.25"/><circle cx="357.39" cy="567.10" r="3.25"/><circle cx="388.80" cy="557.40" r="3.25"/><circle cx="396.65" cy="562.90" r="3.25"/><circle cx="404.50" cy="569.10" r="3.25"/><circle cx="412.35" cy="567.40" r="3.25"/><circle cx="420.21" cy="576.60" r="3.25"/><circle cx="428.06" cy="570.90" r="3.25"/><circle cx="435.91" cy="574.90" r="3.25"/><circle cx="443.76" cy="574.90" r="3.25"/><circle cx="451.61" cy="578.60" r="3.25"/><circle cx="459.46" cy="576.60" r="3.25"/><circle cx="467.32" cy="572.90" r="3.25"/><circle cx="475.17" cy="569.10" r="3.25"/><circle cx="483.02" cy="567.10" r="3.25"/><circle cx="490.87" cy="570.90" r="3.25"/><circle cx="498.72" cy="561.10" r="3.25"/><circle cx="506.57" cy="566.10" r="3.25"/></g>
<path d="M40.38 586.85L46.28 592.75M40.38 592.75L46.28 586.85M48.23 576.95L54.13 582.85M48.23 582.85L54.13 576.95M56.08 585.35L61.98 591.25M56.08 591.25L61.98 585.35M63.93 579.45L69.83 585.35M63.93 585.35L69.83 579.45M71.78 591.15L77.68 597.05M71.78 597.05L77.68 591.15M79.63 588.15L85.53 594.05M79.63 594.05L85.53 588.15M87.49 590.35L93.39 596.25M87.49 596.25L93.39 590.35M95.34 588.65L101.24 594.55M95.34 594.55L101.24 588.65M103.19 582.35L109.09 588.25M103.19 588.25L109.09 582.35M111.04 583.65L116.94 589.55M111.04 589.55L116.94 583.65M118.89 584.35L124.79 590.25M118.89 590.25L124.79 584.35M126.74 579.95L132.64 585.85M126.74 585.85L132.64 579.95M134.60 581.85L140.50 587.75M134.60 587.75L140.50 581.85M142.45 580.65L148.35 586.55M142.45 586.55L148.35 580.65M150.30 580.65L156.20 586.55M150.30 586.55L156.20 580.65M158.15 583.65L164.05 589.55M158.15 589.55L164.05 583.65M166.00 580.25L171.90 586.15M166.00 586.15L171.90 580.25M173.85 590.65L179.75 596.55M173.85 596.55L179.75 590.65M181.71 579.45L187.61 585.35M181.71 585.35L187.61 579.45M189.56 581.85L195.46 587.75M189.56 587.75L195.46 581.85M197.41 574.95L203.31 580.85M197.41 580.85L203.31 574.95M205.26 578.15L211.16 584.05M205.26 584.05L211.16 578.15M213.11 576.65L219.01 582.55M213.11 582.55L219.01 576.65M220.96 579.95L226.86 585.85M220.96 585.85L226.86 579.95M228.82 576.65L234.72 582.55M228.82 582.55L234.72 576.65M236.67 569.15L242.57 575.05M236.67 575.05L242.57 569.15M244.52 571.65L250.42 577.55M244.52 577.55L250.42 571.65M252.37 564.15L258.27 570.05M252.37 570.05L258.27 564.15M260.22 567.45L266.12 573.35M260.22 573.35L266.12 567.45M268.07 566.15L273.97 572.05M268.07 572.05L273.97 566.15M275.93 561.15L281.83 567.05M275.93 567.05L281.83 561.15M283.78 526.25L289.68 532.15M283.78 532.15L289.68 526.25M291.63 533.75L297.53 539.65M291.63 539.65L297.53 533.75M299.48 564.45L305.38 570.35M299.48 570.35L305.38 564.45M307.33 566.95L313.23 572.85M307.33 572.85L313.23 566.95M315.18 563.65L321.08 569.55M315.18 569.55L321.08 563.65M323.04 573.65L328.94 579.55M323.04 579.55L328.94 573.65M330.89 573.65L336.79 579.55M330.89 579.55L336.79 573.65M338.74 572.95L344.64 578.85M338.74 578.85L344.64 572.95M346.59 576.65L352.49 582.55M346.59 582.55L352.49 576.65M354.44 576.95L360.34 582.85M354.44 582.85L360.34 576.95M385.85 564.45L391.75 570.35M385.85 570.35L391.75 564.45M393.70 570.65L399.60 576.55M393.70 576.55L399.60 570.65M401.55 571.15L407.45 577.05M401.55 577.05L407.45 571.15M409.40 572.45L415.30 578.35M409.40 578.35L415.30 572.45M417.26 572.95L423.16 578.85M417.26 578.85L423.16 572.95M425.11 567.45L431.01 573.35M425.11 573.35L431.01 567.45M432.96 573.65L438.86 579.55M432.96 579.55L438.86 573.65M440.81 567.45L446.71 573.35M440.81 573.35L446.71 567.45M448.66 571.15L454.56 577.05M448.66 577.05L454.56 571.15M456.51 573.65L462.41 579.55M456.51 579.55L462.41 573.65M464.37 577.45L470.27 583.35M464.37 583.35L470.27 577.45M472.22 571.95L478.12 577.85M472.22 577.85L478.12 571.95M480.07 572.45L485.97 578.35M480.07 578.35L485.97 572.45M487.92 571.95L493.82 577.85M487.92 577.85L493.82 571.95M495.77 575.65L501.67 581.55M495.77 581.55L501.67 575.65M503.62 574.95L509.52 580.85M503.62 580.85L509.52 574.95" stroke="#0000ff" stroke-width="1.05" fill="none"/>
<g fill="#ff0000"><circle cx="43.33" cy="684.30" r="3.25"/><circle cx="51.18" cy="676.10" r="3.25"/><circle cx="59.03" cy="682.30" r="3.25"/><circle cx="66.88" cy="682.30" r="3.25"/><circle cx="74.73" cy="685.30" r="3.25"/><circle cx="82.58" cy="685.60" r="3.25"/><circle cx="90.44" cy="683.10" r="3.25"/><circle cx="98.29" cy="665.40" r="3.25"/><circle cx="106.14" cy="668.60" r="3.25"/><circle cx="113.99" cy="677.40" r="3.25"/><circle cx="121.84" cy="678.60" r="3.25"/><circle cx="129.69" cy="669.90" r="3.25"/><circle cx="137.55" cy="659.90" r="3.25"/><circle cx="145.40" cy="669.90" r="3.25"/><circle cx="153.25" cy="684.10" r="3.25"/><circle cx="161.10" cy="672.40" r="3.25"/><circle cx="168.95" cy="675.50" r="3.25"/><circle cx="176.80" cy="674.40" r="3.25"/><circle cx="184.66" cy="677.90" r="3.25"/><circle cx="192.51" cy="672.40" r="3.25"/><circle cx="200.36" cy="680.60" r="3.25"/><circle cx="208.21" cy="669.90" r="3.25"/><circle cx="216.06" cy="674.90" r="3.25"/><circle cx="223.91" cy="669.90" r="3.25"/><circle cx="231.77" cy="678.10" r="3.25"/><circle cx="239.62" cy="669.10" r="3.25"/><circle cx="247.47" cy="677.90" r="3.25"/><circle cx="255.32" cy="666.10" r="3.25"/><circle cx="263.17" cy="679.40" r="3.25"/><circle cx="271.02" cy="680.40" r="3.25"/><circle cx="278.88" cy="683.10" r="3.25"/><circle cx="286.73" cy="629.90" r="3.25"/><circle cx="294.58" cy="622.50" r="3.25"/><circle cx="302.43" cy="676.10" r="3.25"/><circle cx="310.28" cy="674.40" r="3.25"/><circle cx="318.13" cy="674.40" r="3.25"/><circle cx="325.99" cy="671.90" r="3.25"/><circle cx="333.84" cy="678.60" r="3.25"/><circle cx="341.69" cy="683.60" r="3.25"/><circle cx="349.54" cy="678.10" r="3.25"/><circle cx="357.39" cy="686.80" r="3.25"/><circle cx="388.80" cy="667.40" r="3.25"/><circle cx="396.65" cy="665.80" r="3.25"/><circle cx="404.50" cy="673.60" r="3.25"/><circle cx="412.35" cy="671.10" r="3.25"/><circle cx="420.21" cy="676.90" r="3.25"/><circle cx="428.06" cy="677.90" r="3.25"/><circle cx="435.91" cy="676.90" r="3.25"/><circle cx="443.76" cy="672.90" r="3.25"/><circle cx="451.61" cy="676.60" r="3.25"/><circle cx="459.46" cy="679.90" r="3.25"/><circle cx="467.32" cy="682.30" r="3.25"/><circle cx="475.17" cy="674.40" r="3.25"/><circle cx="483.02" cy="669.10" r="3.25"/><circle cx="490.87" cy="681.80" r="3.25"/><circle cx="498.72" cy="674.90" r="3.25"/><circle cx="506.57" cy="675.60" r="3.25"/></g>
<path d="M40.38 677.65L46.28 683.55M40.38 683.55L46.28 677.65M48.23 683.15L54.13 689.05M48.23 689.05L54.13 683.15M56.08 683.65L61.98 689.55M56.08 689.55L61.98 683.65M63.93 683.15L69.83 689.05M63.93 689.05L69.83 683.15M71.78 676.45L77.68 682.35M71.78 682.35L77.68 676.45M79.63 675.15L85.53 681.05M79.63 681.05L85.53 675.15M87.49 680.65L93.39 686.55M87.49 686.55L93.39 680.65M95.34 681.85L101.24 687.75M95.34 687.75L101.24 681.85M103.19 675.65L109.09 681.55M103.19 681.55L109.09 675.65M111.04 662.65L116.94 668.55M111.04 668.55L116.94 662.65M118.89 671.95L124.79 677.85M118.89 677.85L124.79 671.95M126.74 671.95L132.64 677.85M126.74 677.85L132.64 671.95M134.60 681.85L140.50 687.75M134.60 687.75L140.50 681.85M142.45 675.65L148.35 681.55M142.45 681.55L148.35 675.65M150.30 669.95L156.20 675.85M150.30 675.85L156.20 669.95M158.15 673.95L164.05 679.85M158.15 679.85L164.05 673.95M166.00 670.65L171.90 676.55M166.00 676.55L171.90 670.65M173.85 673.95L179.75 679.85M173.85 679.85L179.75 673.95M181.71 668.15L187.61 674.05M181.71 674.05L187.61 668.15M189.56 676.95L195.46 682.85M189.56 682.85L195.46 676.95M197.41 669.45L203.31 675.35M197.41 675.35L203.31 669.45M205.26 675.65L211.16 681.55M205.26 681.55L211.16 675.65M213.11 676.45L219.01 682.35M213.11 682.35L219.01 676.45M220.96 666.15L226.86 672.05M220.96 672.05L226.86 666.15M228.82 676.95L234.72 682.85M228.82 682.85L234.72 676.95M236.67 672.45L242.57 678.35M236.67 678.35L242.57 672.45M244.52 665.15L250.42 671.05M244.52 671.05L250.42 665.15M252.37 675.15L258.27 681.05M252.37 681.05L258.27 675.15M260.22 658.95L266.12 664.85M260.22 664.85L266.12 658.95M268.07 671.45L273.97 677.35M268.07 677.35L273.97 671.45M275.93 662.65L281.83 668.55M275.93 668.55L281.83 662.65M283.78 630.75L289.68 636.65M283.78 636.65L289.68 630.75M291.63 665.65L297.53 671.55M291.63 671.55L297.53 665.65M299.48 667.45L305.38 673.35M299.48 673.35L305.38 667.45M307.33 676.45L313.23 682.35M307.33 682.35L313.23 676.45M315.18 674.95L321.08 680.85M315.18 680.85L321.08 674.95M323.04 681.85L328.94 687.75M323.04 687.75L328.94 681.85M330.89 682.35L336.79 688.25M330.89 688.25L336.79 682.35M338.74 675.65L344.64 681.55M338.74 681.55L344.64 675.65M346.59 678.95L352.49 684.85M346.59 684.85L352.49 678.95M354.44 670.15L360.34 676.05M354.44 676.05L360.34 670.15M385.85 664.45L391.75 670.35M385.85 670.35L391.75 664.45M393.70 666.95L399.60 672.85M393.70 672.85L399.60 666.95M401.55 661.45L407.45 667.35M401.55 667.35L407.45 661.45M409.40 668.55L415.30 674.45M409.40 674.45L415.30 668.55M417.26 668.15L423.16 674.05M417.26 674.05L423.16 668.15M425.11 672.45L431.01 678.35M425.11 678.35L431.01 672.45M432.96 673.95L438.86 679.85M432.96 679.85L438.86 673.95M440.81 674.95L446.71 680.85M440.81 680.85L446.71 674.95M448.66 677.65L454.56 683.55M448.66 683.55L454.56 677.65M456.51 676.15L462.41 682.05M456.51 682.05L462.41 676.15M464.37 676.95L470.27 682.85M464.37 682.85L470.27 676.95M472.22 676.15L478.12 682.05M472.22 682.05L478.12 676.15M480.07 678.65L485.97 684.55M480.07 684.55L485.97 678.65M487.92 668.15L493.82 674.05M487.92 674.05L493.82 668.15M495.77 671.95L501.67 677.85M495.77 677.85L501.67 671.95M503.62 668.15L509.52 674.05M503.62 674.05L509.52 668.15" stroke="#0000ff" stroke-width="1.05" fill="none"/>
<g fill="#ff0000"><circle cx="43.33" cy="775.60" r="3.25"/><circle cx="51.18" cy="769.40" r="3.25"/><circle cx="59.03" cy="775.10" r="3.25"/><circle cx="66.88" cy="771.40" r="3.25"/><circle cx="74.73" cy="779.80" r="3.25"/><circle cx="82.58" cy="781.30" r="3.25"/><circle cx="90.44" cy="776.90" r="3.25"/><circle cx="98.29" cy="768.90" r="3.25"/><circle cx="106.14" cy="772.60" r="3.25"/><circle cx="113.99" cy="775.60" r="3.25"/><circle cx="121.84" cy="773.90" r="3.25"/><circle cx="129.69" cy="775.10" r="3.25"/><circle cx="137.55" cy="767.60" r="3.25"/><circle cx="145.40" cy="773.60" r="3.25"/><circle cx="153.25" cy="778.10" r="3.25"/><circle cx="161.10" cy="773.10" r="3.25"/><circle cx="168.95" cy="768.90" r="3.25"/><circle cx="176.80" cy="773.90" r="3.25"/><circle cx="184.66" cy="770.10" r="3.25"/><circle cx="192.51" cy="774.40" r="3.25"/><circle cx="200.36" cy="767.60" r="3.25"/><circle cx="208.21" cy="766.90" r="3.25"/><circle cx="216.06" cy="768.10" r="3.25"/><circle cx="223.91" cy="776.40" r="3.25"/><circle cx="231.77" cy="775.60" r="3.25"/><circle cx="239.62" cy="766.10" r="3.25"/><circle cx="247.47" cy="773.10" r="3.25"/><circle cx="255.32" cy="767.60" r="3.25"/><circle cx="263.17" cy="769.90" r="3.25"/><circle cx="271.02" cy="775.10" r="3.25"/><circle cx="278.88" cy="767.40" r="3.25"/><circle cx="286.73" cy="720.70" r="3.25"/><circle cx="294.58" cy="760.10" r="3.25"/><circle cx="302.43" cy="777.40" r="3.25"/><circle cx="310.28" cy="783.80" r="3.25"/><circle cx="318.13" cy="779.80" r="3.25"/><circle cx="325.99" cy="779.80" r="3.25"/><circle cx="333.84" cy="784.30" r="3.25"/><circle cx="341.69" cy="781.80" r="3.25"/><circle cx="349.54" cy="783.10" r="3.25"/><circle cx="357.39" cy="775.10" r="3.25"/><circle cx="388.80" cy="774.40" r="3.25"/><circle cx="396.65" cy="772.60" r="3.25"/><circle cx="404.50" cy="770.60" r="3.25"/><circle cx="412.35" cy="781.80" r="3.25"/><circle cx="420.21" cy="776.40" r="3.25"/><circle cx="428.06" cy="781.30" r="3.25"/><circle cx="435.91" cy="780.60" r="3.25"/><circle cx="443.76" cy="762.40" r="3.25"/><circle cx="451.61" cy="776.10" r="3.25"/><circle cx="459.46" cy="774.40" r="3.25"/><circle cx="467.32" cy="775.60" r="3.25"/><circle cx="475.17" cy="778.60" r="3.25"/><circle cx="483.02" cy="775.10" r="3.25"/><circle cx="490.87" cy="778.60" r="3.25"/><circle cx="498.72" cy="780.10" r="3.25"/><circle cx="506.57" cy="772.40" r="3.25"/></g>
<path d="M40.38 775.85L46.28 781.75M40.38 781.75L46.28 775.85M48.23 777.15L54.13 783.05M48.23 783.05L54.13 777.15M56.08 772.15L61.98 778.05M56.08 778.05L61.98 772.15M63.93 781.35L69.83 787.25M63.93 787.25L69.83 781.35M71.78 776.85L77.68 782.75M71.78 782.75L77.68 776.85M79.63 772.65L85.53 778.55M79.63 778.55L85.53 772.65M87.49 776.35L93.39 782.25M87.49 782.25L93.39 776.35M95.34 774.65L101.24 780.55M95.34 780.55L101.24 774.65M103.19 769.65L109.09 775.55M103.19 775.55L109.09 769.65M111.04 766.45L116.94 772.35M111.04 772.35L116.94 766.45M118.89 773.45L124.79 779.35M118.89 779.35L124.79 773.45M126.74 768.95L132.64 774.85M126.74 774.85L132.64 768.95M134.60 778.35L140.50 784.25M134.60 784.25L140.50 778.35M142.45 776.85L148.35 782.75M142.45 782.75L148.35 776.85M150.30 775.15L156.20 781.05M150.30 781.05L156.20 775.15M158.15 770.25L164.05 776.15M158.15 776.15L164.05 770.25M166.00 776.35L171.90 782.25M166.00 782.25L171.90 776.35M173.85 768.95L179.75 774.85M173.85 774.85L179.75 768.95M181.71 773.45L187.61 779.35M181.71 779.35L187.61 773.45M189.56 773.95L195.46 779.85M189.56 779.85L195.46 773.95M197.41 773.45L203.31 779.35M197.41 779.35L203.31 773.45M205.26 775.15L211.16 781.05M205.26 781.05L211.16 775.15M213.11 773.95L219.01 779.85M213.11 779.85L219.01 773.95M220.96 758.95L226.86 764.85M220.96 764.85L226.86 758.95M228.82 772.15L234.72 778.05M228.82 778.05L234.72 772.15M236.67 773.95L242.57 779.85M236.67 779.85L242.57 773.95M244.52 766.95L250.42 772.85M244.52 772.85L250.42 766.95M252.37 767.65L258.27 773.55M252.37 773.55L258.27 767.65M260.22 763.45L266.12 769.35M260.22 769.35L266.12 763.45M268.07 768.45L273.97 774.35M268.07 774.35L273.97 768.45M275.93 772.65L281.83 778.55M275.93 778.55L281.83 772.65M283.78 749.55L289.68 755.45M283.78 755.45L289.68 749.55M291.63 714.55L297.53 720.45M291.63 720.45L297.53 714.55M299.48 756.45L305.38 762.35M299.48 762.35L305.38 756.45M307.33 753.45L313.23 759.35M307.33 759.35L313.23 753.45M315.18 765.15L321.08 771.05M315.18 771.05L321.08 765.15M323.04 772.65L328.94 778.55M323.04 778.55L328.94 772.65M330.89 775.15L336.79 781.05M330.89 781.05L336.79 775.15M338.74 775.85L344.64 781.75M338.74 781.75L344.64 775.85M346.59 770.65L352.49 776.55M346.59 776.55L352.49 770.65M354.44 777.65L360.34 783.55M354.44 783.55L360.34 777.65M385.85 760.15L391.75 766.05M385.85 766.05L391.75 760.15M393.70 771.45L399.60 777.35M393.70 777.35L399.60 771.45M401.55 771.95L407.45 777.85M401.55 777.85L407.45 771.95M409.40 763.45L415.30 769.35M409.40 769.35L415.30 763.45M417.26 775.15L423.16 781.05M417.26 781.05L423.16 775.15M425.11 771.95L431.01 777.85M425.11 777.85L431.01 771.95M432.96 777.65L438.86 783.55M432.96 783.55L438.86 777.65M440.81 783.35L446.71 789.25M440.81 789.25L446.71 783.35M448.66 778.85L454.56 784.75M448.66 784.75L454.56 778.85M456.51 780.85L462.41 786.75M456.51 786.75L462.41 780.85M464.37 779.35L470.27 785.25M464.37 785.25L470.27 779.35M472.22 775.85L478.12 781.75M472.22 781.75L478.12 775.85M480.07 776.35L485.97 782.25M480.07 782.25L485.97 776.35M487.92 776.85L493.82 782.75M487.92 782.75L493.82 776.85M495.77 769.65L501.67 775.55M495.77 775.55L501.67 769.65M503.62 778.35L509.52 784.25M503.62 784.25L509.52 778.35" stroke="#0000ff" stroke-width="1.05" fill="none"/>
<path d="M282.00 113.90h1v1h-1zM282.00 110.02h1v1h-1zM282.00 106.13h1v1h-1zM282.00 102.25h1v1h-1zM282.00 98.37h1v1h-1zM282.00 94.49h1v1h-1zM282.00 90.60h1v1h-1zM282.00 86.72h1v1h-1zM282.00 82.84h1v1h-1zM282.00 78.95h1v1h-1zM282.00 75.07h1v1h-1zM282.00 71.19h1v1h-1zM282.00 67.30h1v1h-1zM282.00 63.42h1v1h-1zM282.00 59.54h1v1h-1zM282.00 55.66h1v1h-1zM282.00 51.77h1v1h-1zM282.00 47.89h1v1h-1zM282.00 44.01h1v1h-1zM282.00 40.12h1v1h-1zM282.00 36.24h1v1h-1zM282.00 32.36h1v1h-1zM282.00 28.47h1v1h-1zM282.00 24.59h1v1h-1zM289.00 113.90h1v1h-1zM289.00 110.02h1v1h-1zM289.00 106.13h1v1h-1zM289.00 102.25h1v1h-1zM289.00 98.37h1v1h-1zM289.00 94.49h1v1h-1zM289.00 90.60h1v1h-1zM289.00 86.72h1v1h-1zM289.00 82.84h1v1h-1zM289.00 78.95h1v1h-1zM289.00 75.07h1v1h-1zM289.00 71.19h1v1h-1zM289.00 67.30h1v1h-1zM289.00 63.42h1v1h-1zM289.00 59.54h1v1h-1zM289.00 55.66h1v1h-1zM289.00 51.77h1v1h-1zM289.00 47.89h1v1h-1zM289.00 44.01h1v1h-1zM289.00 40.12h1v1h-1zM289.00 36.24h1v1h-1zM289.00 32.36h1v1h-1zM289.00 28.47h1v1h-1zM289.00 24.59h1v1h-1zM293.50 113.90h1v1h-1zM293.50 110.02h1v1h-1zM293.50 106.13h1v1h-1zM293.50 102.25h1v1h-1zM293.50 98.37h1v1h-1zM293.50 94.49h1v1h-1zM293.50 90.60h1v1h-1zM293.50 86.72h1v1h-1zM293.50 82.84h1v1h-1zM293.50 78.95h1v1h-1zM293.50 75.07h1v1h-1zM293.50 71.19h1v1h-1zM293.50 67.30h1v1h-1zM293.50 63.42h1v1h-1zM293.50 59.54h1v1h-1zM293.50 55.66h1v1h-1zM293.50 51.77h1v1h-1zM293.50 47.89h1v1h-1zM293.50 44.01h1v1h-1zM293.50 40.12h1v1h-1zM293.50 36.24h1v1h-1zM293.50 32.36h1v1h-1zM293.50 28.47h1v1h-1zM293.50 24.59h1v1h-1zM282.00 211.04h1v1h-1zM282.00 207.16h1v1h-1zM282.00 203.27h1v1h-1zM282.00 199.39h1v1h-1zM282.00 195.51h1v1h-1zM282.00 191.62h1v1h-1zM282.00 187.74h1v1h-1zM282.00 183.86h1v1h-1zM282.00 179.98h1v1h-1zM282.00 176.09h1v1h-1zM282.00 172.21h1v1h-1zM282.00 168.33h1v1h-1zM282.00 164.44h1v1h-1zM282.00 160.56h1v1h-1zM282.00 156.68h1v1h-1zM282.00 152.79h1v1h-1zM282.00 148.91h1v1h-1zM282.00 145.03h1v1h-1zM282.00 141.15h1v1h-1zM282.00 137.26h1v1h-1zM282.00 133.38h1v1h-1zM282.00 129.50h1v1h-1zM282.00 125.61h1v1h-1zM282.00 121.73h1v1h-1zM289.00 211.04h1v1h-1zM289.00 207.16h1v1h-1zM289.00 203.27h1v1h-1zM289.00 199.39h1v1h-1zM289.00 195.51h1v1h-1zM289.00 191.62h1v1h-1zM289.00 187.74h1v1h-1zM289.00 183.86h1v1h-1zM289.00 179.98h1v1h-1zM289.00 176.09h1v1h-1zM289.00 172.21h1v1h-1zM289.00 168.33h1v1h-1zM289.00 164.44h1v1h-1zM289.00 160.56h1v1h-1zM289.00 156.68h1v1h-1zM289.00 152.79h1v1h-1zM289.00 148.91h1v1h-1zM289.00 145.03h1v1h-1zM289.00 141.15h1v1h-1zM289.00 137.26h1v1h-1zM289.00 133.38h1v1h-1zM289.00 129.50h1v1h-1zM289.00 125.61h1v1h-1zM289.00 121.73h1v1h-1zM293.50 211.04h1v1h-1zM293.50 207.16h1v1h-1zM293.50 203.27h1v1h-1zM293.50 199.39h1v1h-1zM293.50 195.51h1v1h-1zM293.50 191.62h1v1h-1zM293.50 187.74h1v1h-1zM293.50 183.86h1v1h-1zM293.50 179.98h1v1h-1zM293.50 176.09h1v1h-1zM293.50 172.21h1v1h-1zM293.50 168.33h1v1h-1zM293.50 164.44h1v1h-1zM293.50 160.56h1v1h-1zM293.50 156.68h1v1h-1zM293.50 152.79h1v1h-1zM293.50 148.91h1v1h-1zM293.50 145.03h1v1h-1zM293.50 141.15h1v1h-1zM293.50 137.26h1v1h-1zM293.50 133.38h1v1h-1zM293.50 129.50h1v1h-1zM293.50 125.61h1v1h-1zM293.50 121.73h1v1h-1zM282.00 308.18h1v1h-1zM282.00 304.30h1v1h-1zM282.00 300.41h1v1h-1zM282.00 296.53h1v1h-1zM282.00 292.65h1v1h-1zM282.00 288.76h1v1h-1zM282.00 284.88h1v1h-1zM282.00 281.00h1v1h-1zM282.00 277.12h1v1h-1zM282.00 273.23h1v1h-1zM282.00 269.35h1v1h-1zM282.00 265.47h1v1h-1zM282.00 261.58h1v1h-1zM282.00 257.70h1v1h-1zM282.00 253.82h1v1h-1zM282.00 249.94h1v1h-1zM282.00 246.05h1v1h-1zM282.00 242.17h1v1h-1zM282.00 238.29h1v1h-1zM282.00 234.40h1v1h-1zM282.00 230.52h1v1h-1zM282.00 226.64h1v1h-1zM282.00 222.75h1v1h-1zM282.00 218.87h1v1h-1zM289.00 308.18h1v1h-1zM289.00 304.30h1v1h-1zM289.00 300.41h1v1h-1zM289.00 296.53h1v1h-1zM289.00 292.65h1v1h-1zM289.00 288.76h1v1h-1zM289.00 284.88h1v1h-1zM289.00 281.00h1v1h-1zM289.00 277.12h1v1h-1zM289.00 273.23h1v1h-1zM289.00 269.35h1v1h-1zM289.00 265.47h1v1h-1zM289.00 261.58h1v1h-1zM289.00 257.70h1v1h-1zM289.00 253.82h1v1h-1zM289.00 249.94h1v1h-1zM289.00 246.05h1v1h-1zM289.00 242.17h1v1h-1zM289.00 238.29h1v1h-1zM289.00 234.40h1v1h-1zM289.00 230.52h1v1h-1zM289.00 226.64h1v1h-1zM289.00 222.75h1v1h-1zM289.00 218.87h1v1h-1zM293.50 308.18h1v1h-1zM293.50 304.30h1v1h-1zM293.50 300.41h1v1h-1zM293.50 296.53h1v1h-1zM293.50 292.65h1v1h-1zM293.50 288.76h1v1h-1zM293.50 284.88h1v1h-1zM293.50 281.00h1v1h-1zM293.50 277.12h1v1h-1zM293.50 273.23h1v1h-1zM293.50 269.35h1v1h-1zM293.50 265.47h1v1h-1zM293.50 261.58h1v1h-1zM293.50 257.70h1v1h-1zM293.50 253.82h1v1h-1zM293.50 249.94h1v1h-1zM293.50 246.05h1v1h-1zM293.50 242.17h1v1h-1zM293.50 238.29h1v1h-1zM293.50 234.40h1v1h-1zM293.50 230.52h1v1h-1zM293.50 226.64h1v1h-1zM293.50 222.75h1v1h-1zM293.50 218.87h1v1h-1zM282.00 405.32h1v1h-1zM282.00 401.44h1v1h-1zM282.00 397.55h1v1h-1zM282.00 393.67h1v1h-1zM282.00 389.79h1v1h-1zM282.00 385.90h1v1h-1zM282.00 382.02h1v1h-1zM282.00 378.14h1v1h-1zM282.00 374.26h1v1h-1zM282.00 370.37h1v1h-1zM282.00 366.49h1v1h-1zM282.00 362.61h1v1h-1zM282.00 358.72h1v1h-1zM282.00 354.84h1v1h-1zM282.00 350.96h1v1h-1zM282.00 347.07h1v1h-1zM282.00 343.19h1v1h-1zM282.00 339.31h1v1h-1zM282.00 335.43h1v1h-1zM282.00 331.54h1v1h-1zM282.00 327.66h1v1h-1zM282.00 323.78h1v1h-1zM282.00 319.89h1v1h-1zM282.00 316.01h1v1h-1zM289.00 405.32h1v1h-1zM289.00 401.44h1v1h-1zM289.00 397.55h1v1h-1zM289.00 393.67h1v1h-1zM289.00 389.79h1v1h-1zM289.00 385.90h1v1h-1zM289.00 382.02h1v1h-1zM289.00 378.14h1v1h-1zM289.00 374.26h1v1h-1zM289.00 370.37h1v1h-1zM289.00 366.49h1v1h-1zM289.00 362.61h1v1h-1zM289.00 358.72h1v1h-1zM289.00 354.84h1v1h-1zM289.00 350.96h1v1h-1zM289.00 347.07h1v1h-1zM289.00 343.19h1v1h-1zM289.00 339.31h1v1h-1zM289.00 335.43h1v1h-1zM289.00 331.54h1v1h-1zM289.00 327.66h1v1h-1zM289.00 323.78h1v1h-1zM289.00 319.89h1v1h-1zM289.00 316.01h1v1h-1zM293.50 405.32h1v1h-1zM293.50 401.44h1v1h-1zM293.50 397.55h1v1h-1zM293.50 393.67h1v1h-1zM293.50 389.79h1v1h-1zM293.50 385.90h1v1h-1zM293.50 382.02h1v1h-1zM293.50 378.14h1v1h-1zM293.50 374.26h1v1h-1zM293.50 370.37h1v1h-1zM293.50 366.49h1v1h-1zM293.50 362.61h1v1h-1zM293.50 358.72h1v1h-1zM293.50 354.84h1v1h-1zM293.50 350.96h1v1h-1zM293.50 347.07h1v1h-1zM293.50 343.19h1v1h-1zM293.50 339.31h1v1h-1zM293.50 335.43h1v1h-1zM293.50 331.54h1v1h-1zM293.50 327.66h1v1h-1zM293.50 323.78h1v1h-1zM293.50 319.89h1v1h-1zM293.50 316.01h1v1h-1zM282.00 502.46h1v1h-1zM282.00 498.58h1v1h-1zM282.00 494.69h1v1h-1zM282.00 490.81h1v1h-1zM282.00 486.93h1v1h-1zM282.00 483.04h1v1h-1zM282.00 479.16h1v1h-1zM282.00 475.28h1v1h-1zM282.00 471.40h1v1h-1zM282.00 467.51h1v1h-1zM282.00 463.63h1v1h-1zM282.00 459.75h1v1h-1zM282.00 455.86h1v1h-1zM282.00 451.98h1v1h-1zM282.00 448.10h1v1h-1zM282.00 444.21h1v1h-1zM282.00 440.33h1v1h-1zM282.00 436.45h1v1h-1zM282.00 432.57h1v1h-1zM282.00 428.68h1v1h-1zM282.00 424.80h1v1h-1zM282.00 420.92h1v1h-1zM282.00 417.03h1v1h-1zM282.00 413.15h1v1h-1zM289.00 502.46h1v1h-1zM289.00 498.58h1v1h-1zM289.00 494.69h1v1h-1zM289.00 490.81h1v1h-1zM289.00 486.93h1v1h-1zM289.00 483.04h1v1h-1zM289.00 479.16h1v1h-1zM289.00 475.28h1v1h-1zM289.00 471.40h1v1h-1zM289.00 467.51h1v1h-1zM289.00 463.63h1v1h-1zM289.00 459.75h1v1h-1zM289.00 455.86h1v1h-1zM289.00 451.98h1v1h-1zM289.00 448.10h1v1h-1zM289.00 444.21h1v1h-1zM289.00 440.33h1v1h-1zM289.00 436.45h1v1h-1zM289.00 432.57h1v1h-1zM289.00 428.68h1v1h-1zM289.00 424.80h1v1h-1zM289.00 420.92h1v1h-1zM289.00 417.03h1v1h-1zM289.00 413.15h1v1h-1zM293.50 502.46h1v1h-1zM293.50 498.58h1v1h-1zM293.50 494.69h1v1h-1zM293.50 490.81h1v1h-1zM293.50 486.93h1v1h-1zM293.50 483.04h1v1h-1zM293.50 479.16h1v1h-1zM293.50 475.28h1v1h-1zM293.50 471.40h1v1h-1zM293.50 467.51h1v1h-1zM293.50 463.63h1v1h-1zM293.50 459.75h1v1h-1zM293.50 455.86h1v1h-1zM293.50 451.98h1v1h-1zM293.50 448.10h1v1h-1zM293.50 444.21h1v1h-1zM293.50 440.33h1v1h-1zM293.50 436.45h1v1h-1zM293.50 432.57h1v1h-1zM293.50 428.68h1v1h-1zM293.50 424.80h1v1h-1zM293.50 420.92h1v1h-1zM293.50 417.03h1v1h-1zM293.50 413.15h1v1h-1zM282.00 599.60h1v1h-1zM282.00 595.72h1v1h-1zM282.00 591.83h1v1h-1zM282.00 587.95h1v1h-1zM282.00 584.07h1v1h-1zM282.00 580.18h1v1h-1zM282.00 576.30h1v1h-1zM282.00 572.42h1v1h-1zM282.00 568.54h1v1h-1zM282.00 564.65h1v1h-1zM282.00 560.77h1v1h-1zM282.00 556.89h1v1h-1zM282.00 553.00h1v1h-1zM282.00 549.12h1v1h-1zM282.00 545.24h1v1h-1zM282.00 541.35h1v1h-1zM282.00 537.47h1v1h-1zM282.00 533.59h1v1h-1zM282.00 529.71h1v1h-1zM282.00 525.82h1v1h-1zM282.00 521.94h1v1h-1zM282.00 518.06h1v1h-1zM282.00 514.17h1v1h-1zM282.00 510.29h1v1h-1zM289.00 599.60h1v1h-1zM289.00 595.72h1v1h-1zM289.00 591.83h1v1h-1zM289.00 587.95h1v1h-1zM289.00 584.07h1v1h-1zM289.00 580.18h1v1h-1zM289.00 576.30h1v1h-1zM289.00 572.42h1v1h-1zM289.00 568.54h1v1h-1zM289.00 564.65h1v1h-1zM289.00 560.77h1v1h-1zM289.00 556.89h1v1h-1zM289.00 553.00h1v1h-1zM289.00 549.12h1v1h-1zM289.00 545.24h1v1h-1zM289.00 541.35h1v1h-1zM289.00 537.47h1v1h-1zM289.00 533.59h1v1h-1zM289.00 529.71h1v1h-1zM289.00 525.82h1v1h-1zM289.00 521.94h1v1h-1zM289.00 518.06h1v1h-1zM289.00 514.17h1v1h-1zM289.00 510.29h1v1h-1zM293.50 599.60h1v1h-1zM293.50 595.72h1v1h-1zM293.50 591.83h1v1h-1zM293.50 587.95h1v1h-1zM293.50 584.07h1v1h-1zM293.50 580.18h1v1h-1zM293.50 576.30h1v1h-1zM293.50 572.42h1v1h-1zM293.50 568.54h1v1h-1zM293.50 564.65h1v1h-1zM293.50 560.77h1v1h-1zM293.50 556.89h1v1h-1zM293.50 553.00h1v1h-1zM293.50 549.12h1v1h-1zM293.50 545.24h1v1h-1zM293.50 541.35h1v1h-1zM293.50 537.47h1v1h-1zM293.50 533.59h1v1h-1zM293.50 529.71h1v1h-1zM293.50 525.82h1v1h-1zM293.50 521.94h1v1h-1zM293.50 518.06h1v1h-1zM293.50 514.17h1v1h-1zM293.50 510.29h1v1h-1zM282.00 696.74h1v1h-1zM282.00 692.86h1v1h-1zM282.00 688.97h1v1h-1zM282.00 685.09h1v1h-1zM282.00 681.21h1v1h-1zM282.00 677.33h1v1h-1zM282.00 673.44h1v1h-1zM282.00 669.56h1v1h-1zM282.00 665.68h1v1h-1zM282.00 661.79h1v1h-1zM282.00 657.91h1v1h-1zM282.00 654.03h1v1h-1zM282.00 650.14h1v1h-1zM282.00 646.26h1v1h-1zM282.00 642.38h1v1h-1zM282.00 638.50h1v1h-1zM282.00 634.61h1v1h-1zM282.00 630.73h1v1h-1zM282.00 626.85h1v1h-1zM282.00 622.96h1v1h-1zM282.00 619.08h1v1h-1zM282.00 615.20h1v1h-1zM282.00 611.31h1v1h-1zM282.00 607.43h1v1h-1zM289.00 696.74h1v1h-1zM289.00 692.86h1v1h-1zM289.00 688.97h1v1h-1zM289.00 685.09h1v1h-1zM289.00 681.21h1v1h-1zM289.00 677.33h1v1h-1zM289.00 673.44h1v1h-1zM289.00 669.56h1v1h-1zM289.00 665.68h1v1h-1zM289.00 661.79h1v1h-1zM289.00 657.91h1v1h-1zM289.00 654.03h1v1h-1zM289.00 650.14h1v1h-1zM289.00 646.26h1v1h-1zM289.00 642.38h1v1h-1zM289.00 638.50h1v1h-1zM289.00 634.61h1v1h-1zM289.00 630.73h1v1h-1zM289.00 626.85h1v1h-1zM289.00 622.96h1v1h-1zM289.00 619.08h1v1h-1zM289.00 615.20h1v1h-1zM289.00 611.31h1v1h-1zM289.00 607.43h1v1h-1zM293.50 696.74h1v1h-1zM293.50 692.86h1v1h-1zM293.50 688.97h1v1h-1zM293.50 685.09h1v1h-1zM293.50 681.21h1v1h-1zM293.50 677.33h1v1h-1zM293.50 673.44h1v1h-1zM293.50 669.56h1v1h-1zM293.50 665.68h1v1h-1zM293.50 661.79h1v1h-1zM293.50 657.91h1v1h-1zM293.50 654.03h1v1h-1zM293.50 650.14h1v1h-1zM293.50 646.26h1v1h-1zM293.50 642.38h1v1h-1zM293.50 638.50h1v1h-1zM293.50 634.61h1v1h-1zM293.50 630.73h1v1h-1zM293.50 626.85h1v1h-1zM293.50 622.96h1v1h-1zM293.50 619.08h1v1h-1zM293.50 615.20h1v1h-1zM293.50 611.31h1v1h-1zM293.50 607.43h1v1h-1zM282.00 793.88h1v1h-1zM282.00 790.00h1v1h-1zM282.00 786.11h1v1h-1zM282.00 782.23h1v1h-1zM282.00 778.35h1v1h-1zM282.00 774.47h1v1h-1zM282.00 770.58h1v1h-1zM282.00 766.70h1v1h-1zM282.00 762.82h1v1h-1zM282.00 758.93h1v1h-1zM282.00 755.05h1v1h-1zM282.00 751.17h1v1h-1zM282.00 747.28h1v1h-1zM282.00 743.40h1v1h-1zM282.00 739.52h1v1h-1zM282.00 735.63h1v1h-1zM282.00 731.75h1v1h-1zM282.00 727.87h1v1h-1zM282.00 723.99h1v1h-1zM282.00 720.10h1v1h-1zM282.00 716.22h1v1h-1zM282.00 712.34h1v1h-1zM282.00 708.45h1v1h-1zM282.00 704.57h1v1h-1zM289.00 793.88h1v1h-1zM289.00 790.00h1v1h-1zM289.00 786.11h1v1h-1zM289.00 782.23h1v1h-1zM289.00 778.35h1v1h-1zM289.00 774.47h1v1h-1zM289.00 770.58h1v1h-1zM289.00 766.70h1v1h-1zM289.00 762.82h1v1h-1zM289.00 758.93h1v1h-1zM289.00 755.05h1v1h-1zM289.00 751.17h1v1h-1zM289.00 747.28h1v1h-1zM289.00 743.40h1v1h-1zM289.00 739.52h1v1h-1zM289.00 735.63h1v1h-1zM289.00 731.75h1v1h-1zM289.00 727.87h1v1h-1zM289.00 723.99h1v1h-1zM289.00 720.10h1v1h-1zM289.00 716.22h1v1h-1zM289.00 712.34h1v1h-1zM289.00 708.45h1v1h-1zM289.00 704.57h1v1h-1zM293.50 793.88h1v1h-1zM293.50 790.00h1v1h-1zM293.50 786.11h1v1h-1zM293.50 782.23h1v1h-1zM293.50 778.35h1v1h-1zM293.50 774.47h1v1h-1zM293.50 770.58h1v1h-1zM293.50 766.70h1v1h-1zM293.50 762.82h1v1h-1zM293.50 758.93h1v1h-1zM293.50 755.05h1v1h-1zM293.50 751.17h1v1h-1zM293.50 747.28h1v1h-1zM293.50 743.40h1v1h-1zM293.50 739.52h1v1h-1zM293.50 735.63h1v1h-1zM293.50 731.75h1v1h-1zM293.50 727.87h1v1h-1zM293.50 723.99h1v1h-1zM293.50 720.10h1v1h-1zM293.50 716.22h1v1h-1zM293.50 712.34h1v1h-1zM293.50 708.45h1v1h-1zM293.50 704.57h1v1h-1z" fill="#222"/>
</svg></body></html>
